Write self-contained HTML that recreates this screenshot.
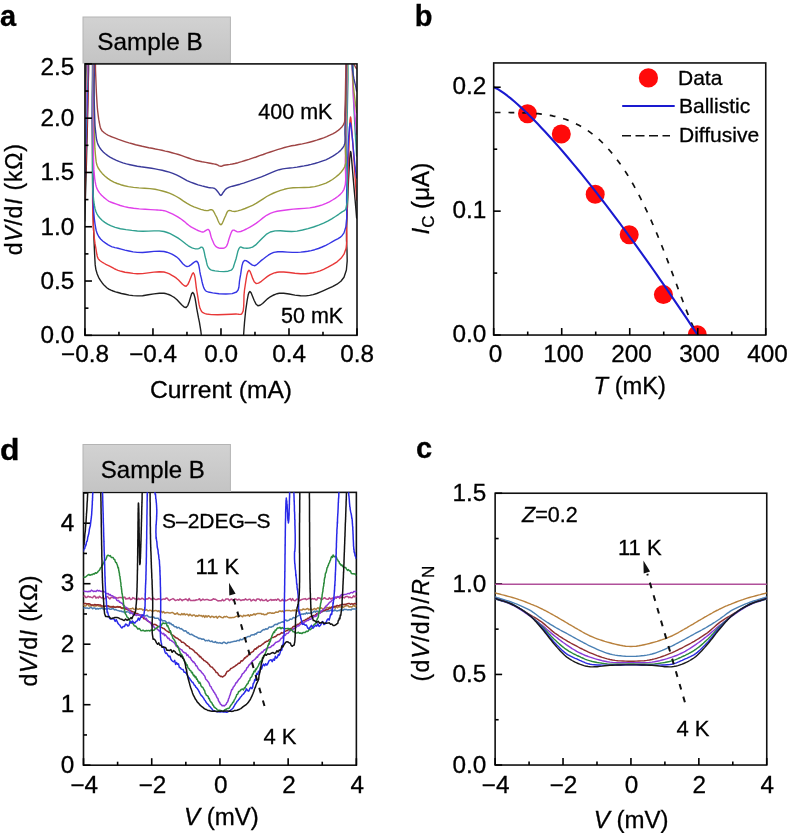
<!DOCTYPE html>
<html><head><meta charset="utf-8"><style>html,body{margin:0;padding:0;background:#fff;width:788px;height:833px;overflow:hidden}svg{display:block;will-change:transform}text{font-family:"Liberation Sans",sans-serif;stroke:#000;stroke-width:0.3px}</style></head><body>
<svg width="788" height="833" viewBox="0 0 788 833" font-family="Liberation Sans, sans-serif"><defs><clipPath id="clipA"><rect x="84.95" y="63.9" width="272.05" height="271.40000000000003"/></clipPath><clipPath id="clipB"><rect x="493.7" y="61.95" width="272.05" height="273.09000000000003"/></clipPath><clipPath id="clipD"><rect x="83.5" y="492.37" width="272.87" height="272.83000000000004"/></clipPath><clipPath id="clipC"><rect x="495.13" y="493.23" width="271.62" height="271.80999999999995"/></clipPath></defs><rect width="788" height="833" fill="#fff"/><path d="M84.8 221.0L85.2 204.7L85.7 188.3L86.2 172.0L86.6 155.8L87.0 140.0L87.4 125.4L87.7 110.7L88.0 96.4L88.3 82.7L88.6 70.0L88.6 60.2L88.5 49.9L88.4 40.6L88.6 33.5L89.5 30.0L89.7 29.8L90.0 29.7L90.3 29.7L90.5 29.8L90.8 30.0L92.2 37.5L92.6 53.7L92.5 75.2L92.3 98.4L92.3 120.0L92.6 145.5L92.8 173.7L93.1 201.9L93.5 227.3L94.3 247.0L94.6 253.9L94.9 259.8L95.2 264.9L95.9 269.6L97.2 274.0L98.6 277.3L100.4 280.4L102.4 283.2L104.5 285.6L106.8 287.7L108.8 289.1L110.9 290.2L113.1 291.0L115.5 291.8L118.0 292.5L121.4 293.5L125.2 294.3L129.1 295.1L133.1 295.6L137.3 295.9L142.6 295.7L148.3 294.8L154.0 293.9L159.4 293.2L164.0 293.3L166.5 293.8L168.7 294.5L170.7 295.4L172.6 296.5L174.6 297.7L177.0 299.7L179.5 302.4L181.9 305.0L184.1 307.0L186.1 307.5L187.8 305.6L189.2 301.8L190.5 297.4L191.6 293.8L192.7 292.4L193.9 294.0L195.0 297.9L195.9 303.2L196.8 308.8L197.7 313.7L198.5 317.9L199.4 322.1L200.1 326.3L200.8 330.6L201.3 335.0L201.7 339.9L202.0 344.8L202.2 349.9L202.3 355.0L202.5 360.0" fill="none" stroke="#1e1e1e" stroke-width="1.4" stroke-linejoin="round" stroke-linecap="round" clip-path="url(#clipA)"/>
<path d="M242.5 360.0L242.7 355.0L242.9 350.1L243.1 345.2L243.3 340.1L243.6 335.0L244.0 329.0L244.5 322.6L245.1 316.3L245.7 310.3L246.5 305.0L247.0 301.5L247.6 298.0L248.2 294.8L249.0 292.5L249.9 291.5L251.1 292.8L252.5 296.2L254.1 300.3L255.9 303.9L257.9 305.7L260.1 305.3L262.6 303.5L265.2 301.1L267.8 298.6L270.3 296.8L272.0 295.8L273.7 295.0L275.3 294.3L277.1 293.7L279.2 293.3L283.7 293.3L289.1 294.0L294.9 295.1L300.6 295.8L305.8 295.9L309.6 295.4L313.2 294.6L316.7 293.5L320.1 292.1L323.6 290.6L327.9 288.7L332.5 286.7L337.0 284.2L340.9 281.2L344.0 277.3L346.4 270.0L347.2 260.9L347.0 250.6L346.5 240.1L346.5 230.0L346.9 219.9L347.3 209.4L347.7 199.1L348.1 189.1L348.5 180.0L348.9 172.9L349.3 165.2L349.7 158.3L350.2 153.3L350.6 151.4L351.0 152.6L351.3 155.7L351.7 160.1L352.1 165.1L352.5 170.0L353.2 178.2L354.0 187.6L354.9 197.7L355.8 208.0L356.6 218.0" fill="none" stroke="#1e1e1e" stroke-width="1.4" stroke-linejoin="round" stroke-linecap="round" clip-path="url(#clipA)"/>
<path d="M84.8 199.3L85.4 179.2L86.0 158.7L86.6 138.5L87.2 118.8L87.8 100.0L88.0 83.2L88.0 65.2L88.1 48.5L88.6 35.9L89.8 30.0L90.0 29.8L90.3 29.7L90.5 29.7L90.8 29.8L91.0 30.0L92.5 40.4L93.0 63.5L92.8 93.4L92.5 124.2L92.5 150.0L92.6 167.4L92.6 184.6L92.6 200.9L92.9 215.6L93.4 228.0L93.9 233.7L94.4 238.8L95.0 243.4L95.7 247.4L96.3 251.0L96.6 252.8L96.9 254.5L97.2 256.0L97.6 257.4L98.2 258.6L98.9 259.6L99.8 260.5L100.8 261.2L101.9 262.0L103.0 262.7L104.4 263.5L105.9 264.3L107.5 265.1L109.1 265.8L110.6 266.6L112.0 267.4L113.4 268.2L114.8 269.0L116.3 269.7L118.0 270.4L121.2 271.3L124.9 272.2L128.9 272.8L133.1 273.4L137.3 273.7L142.5 273.6L148.2 272.9L153.9 272.1L159.3 271.7L164.0 272.0L166.9 272.8L169.5 273.9L171.9 275.3L174.2 276.7L176.4 278.2L178.5 280.0L180.6 282.2L182.5 284.3L184.4 285.8L186.1 286.2L187.8 284.6L189.4 281.1L190.9 277.2L192.2 274.0L193.3 272.8L194.3 274.3L195.1 277.9L195.7 282.6L196.3 287.6L197.0 292.0L197.7 296.1L198.4 300.5L199.1 304.7L200.0 308.3L201.3 311.0L202.1 312.0L203.0 312.7L204.0 313.2L205.2 313.6L206.6 314.0L211.3 314.6L217.7 314.7L224.7 314.5L231.2 314.2L236.0 314.0L237.5 314.1L238.8 314.3L240.0 314.4L241.0 314.3L241.9 313.7L243.2 310.9L243.7 306.3L243.9 300.8L244.0 295.1L244.5 290.0L245.2 285.3L246.0 280.1L246.8 275.3L247.8 271.7L249.0 270.2L250.1 271.4L251.3 274.5L252.7 278.4L254.2 281.7L256.1 283.5L258.5 283.1L261.4 281.3L264.5 278.8L267.5 276.4L270.3 274.6L272.1 273.8L273.7 273.2L275.3 272.7L277.1 272.3L279.2 272.0L283.7 272.0L289.1 272.5L294.9 273.2L300.6 273.7L305.8 273.7L309.6 273.3L313.2 272.7L316.7 271.9L320.1 270.8L323.6 269.3L328.0 267.2L332.6 264.7L337.1 261.8L341.0 258.3L344.0 254.2L346.1 248.3L346.8 241.5L346.8 233.9L346.6 225.9L346.7 217.8L347.2 207.0L347.5 195.2L347.8 183.1L348.1 171.2L348.5 160.0L348.9 149.6L349.2 138.2L349.6 127.7L350.0 120.0L350.5 117.0L350.9 118.5L351.2 122.4L351.6 127.8L352.1 134.0L352.5 140.0L353.3 150.2L354.1 162.0L354.9 174.6L355.8 187.5L356.6 200.0" fill="none" stroke="#e83838" stroke-width="1.4" stroke-linejoin="round" stroke-linecap="round" clip-path="url(#clipA)"/>
<path d="M84.8 177.6L85.3 159.8L85.9 141.8L86.4 123.8L87.0 106.5L87.5 90.0L87.7 75.6L87.7 60.2L87.9 45.9L88.3 35.1L89.5 30.0L89.7 29.8L90.0 29.7L90.3 29.7L90.5 29.8L90.8 30.0L92.3 39.6L92.8 60.6L92.7 87.8L92.4 116.0L92.5 140.0L92.7 157.4L92.7 175.0L92.9 191.8L93.3 206.6L94.3 218.5L94.9 223.1L95.5 227.0L96.2 230.5L97.2 233.6L98.7 236.5L100.6 239.0L103.0 241.2L105.6 243.1L108.2 244.8L110.6 246.1L112.1 246.8L113.5 247.2L114.8 247.6L116.3 247.9L118.0 248.3L121.2 249.1L124.9 250.1L128.9 251.0L133.1 251.9L137.3 252.4L142.5 252.5L148.2 252.0L153.9 251.4L159.3 251.2L164.0 251.5L166.9 252.2L169.5 253.1L171.9 254.1L174.1 255.4L176.4 256.8L178.7 258.7L180.8 261.2L182.8 263.7L184.9 265.6L187.0 266.6L189.0 266.1L191.2 264.6L193.3 262.9L195.2 261.5L196.8 261.3L198.0 262.7L198.8 265.3L199.4 268.5L199.9 271.9L200.5 275.0L201.3 278.1L202.0 281.5L202.8 284.8L203.7 287.6L204.8 289.7L205.4 290.4L206.0 291.0L206.6 291.4L207.4 291.7L208.4 292.0L212.7 292.9L219.0 293.7L225.9 294.0L232.2 293.6L236.5 292.0L238.1 290.0L238.9 287.3L239.2 284.3L239.5 281.1L240.0 278.0L240.7 274.2L241.3 269.8L242.0 265.6L243.0 262.2L244.5 260.4L246.1 260.6L248.1 261.9L250.3 263.6L252.4 265.1L254.3 265.7L255.8 265.3L257.1 264.3L258.5 263.0L259.9 261.7L261.4 260.4L263.6 258.8L265.8 257.0L268.3 255.2L270.9 253.6L273.8 252.4L277.9 251.7L282.6 251.8L287.5 252.1L292.4 252.4L297.0 252.4L300.7 252.1L304.3 251.7L307.8 251.3L311.2 250.6L314.7 249.7L318.4 248.5L322.1 247.0L325.8 245.3L329.3 243.5L332.5 241.7L335.1 240.2L337.7 238.9L340.1 237.4L342.2 235.4L344.0 232.9L345.9 226.6L346.7 218.4L346.7 209.1L346.6 199.4L346.7 190.0L347.1 179.8L347.4 169.0L347.7 158.3L348.1 148.4L348.5 140.0L348.8 135.5L349.2 130.9L349.5 126.9L349.9 124.1L350.3 123.0L350.6 123.8L351.0 125.8L351.3 128.7L351.7 131.9L352.0 135.0L352.6 140.2L353.1 146.2L353.7 152.5L354.3 158.7L354.8 164.0L355.2 167.1L355.5 170.0L355.9 172.6L356.2 175.3L356.6 178.0" fill="none" stroke="#3434e4" stroke-width="1.4" stroke-linejoin="round" stroke-linecap="round" clip-path="url(#clipA)"/>
<path d="M84.8 156.0L85.3 140.5L85.8 124.8L86.2 109.3L86.7 94.2L87.2 80.0L87.4 68.0L87.4 55.2L87.5 43.4L88.0 34.4L89.2 30.0L89.5 29.8L89.8 29.7L90.2 29.7L90.5 29.8L90.8 30.0L92.3 37.9L92.8 54.8L92.7 76.7L92.5 99.7L92.5 120.0L92.6 137.7L92.4 156.2L92.4 174.1L92.7 189.8L93.8 201.7L94.4 205.4L95.0 208.5L95.8 211.2L96.8 213.6L98.2 216.0L100.1 218.3L102.3 220.5L104.8 222.4L107.6 224.2L110.6 225.7L115.2 227.4L120.4 228.7L126.0 229.6L131.8 230.4L137.3 231.0L142.8 231.3L148.4 231.1L154.0 230.9L159.2 230.9L164.0 231.5L167.2 232.5L170.2 233.7L172.9 235.1L175.6 236.6L178.2 238.2L180.8 240.0L183.4 242.0L185.9 244.0L188.3 245.8L190.6 247.1L192.1 247.8L193.6 248.3L195.0 248.7L196.4 248.9L197.7 248.9L198.7 248.6L199.6 248.1L200.5 247.5L201.3 247.1L202.1 247.1L203.1 248.2L203.8 250.3L204.4 252.9L204.9 255.6L205.5 258.0L206.1 260.0L206.5 262.2L207.0 264.2L207.6 266.0L208.4 267.5L209.0 268.3L209.5 268.9L210.2 269.4L210.9 269.8L211.9 270.2L215.0 270.9L219.2 271.4L223.9 271.6L228.1 271.2L231.2 270.2L232.4 269.0L233.3 267.5L233.8 265.8L234.4 263.9L235.0 262.0L236.0 259.0L236.9 255.3L237.8 251.6L238.9 248.7L240.1 247.1L240.7 247.0L241.4 247.1L242.0 247.5L242.8 247.8L243.6 248.0L245.1 248.1L246.8 248.2L248.6 248.1L250.5 247.7L252.5 247.1L255.7 244.9L259.0 241.6L262.5 237.9L266.2 234.4L270.3 232.0L275.1 230.9L280.4 230.8L286.0 231.2L291.6 231.5L297.0 231.1L302.5 230.0L308.0 228.6L313.5 227.0L318.7 225.1L323.6 223.1L327.7 221.1L331.7 218.8L335.4 216.5L338.7 214.3L341.4 212.4L342.5 211.7L343.5 211.2L344.3 210.7L345.1 210.0L345.8 208.9L347.3 201.9L347.5 190.8L347.2 177.4L346.6 163.3L346.5 150.0L346.8 136.2L347.1 121.9L347.4 107.4L347.7 93.3L348.0 80.0L348.0 68.1L347.7 55.4L347.5 43.6L347.8 34.5L349.0 30.0L349.4 29.7L349.8 29.6L350.2 29.6L350.6 29.7L351.0 30.0L352.5 36.5L353.1 49.8L353.2 66.8L353.2 84.6L353.5 100.0L354.1 111.6L354.7 122.9L355.3 133.9L356.0 144.9L356.6 156.0" fill="none" stroke="#30a090" stroke-width="1.4" stroke-linejoin="round" stroke-linecap="round" clip-path="url(#clipA)"/>
<path d="M84.8 134.3L85.2 121.2L85.7 107.9L86.1 94.6L86.5 81.9L87.0 70.0L87.2 60.3L87.2 50.2L87.4 40.8L87.9 33.7L89.0 30.0L89.4 29.7L89.8 29.6L90.2 29.6L90.6 29.7L91.0 30.0L92.7 38.3L93.3 55.6L93.3 77.9L93.1 100.7L93.2 120.0L93.4 133.2L93.4 146.4L93.5 158.9L93.9 169.9L94.7 178.6L95.2 181.7L95.7 184.4L96.3 186.7L97.1 188.9L98.2 191.0L99.7 193.1L101.5 195.2L103.5 197.1L105.5 198.7L107.1 200.0L107.8 200.5L108.4 200.9L109.0 201.3L109.7 201.6L110.6 202.0L113.2 203.0L116.5 204.2L120.3 205.5L124.4 206.6L128.4 207.5L133.6 208.3L139.3 208.9L145.2 209.3L150.6 209.6L155.1 209.9L157.2 210.0L159.0 210.1L160.7 210.2L162.3 210.4L164.0 210.7L165.8 211.2L167.6 211.8L169.3 212.6L171.1 213.4L172.8 214.2L174.6 215.1L176.4 216.1L178.2 217.2L180.0 218.3L181.7 219.5L183.5 220.9L185.3 222.3L187.0 223.9L188.8 225.3L190.6 226.6L192.4 227.7L194.3 228.7L196.2 229.7L198.0 230.5L199.5 231.1L200.3 231.4L201.0 231.7L201.6 231.9L202.3 232.0L203.0 232.0L204.1 231.6L205.2 230.9L206.4 230.1L207.5 229.5L208.4 229.5L209.3 230.4L209.9 232.0L210.4 234.0L210.9 236.1L211.5 238.0L212.2 239.7L213.0 241.6L213.7 243.3L214.6 244.9L215.5 246.1L216.1 246.7L216.8 247.1L217.5 247.5L218.2 247.8L219.0 248.0L220.0 248.2L221.0 248.3L222.1 248.3L223.1 248.2L224.0 248.0L224.6 247.8L225.1 247.5L225.6 247.1L226.0 246.7L226.5 246.1L227.3 244.6L228.0 242.5L228.6 240.2L229.3 238.0L230.0 236.0L230.5 234.6L231.0 233.1L231.6 231.8L232.2 230.7L233.0 230.1L233.9 230.1L234.8 230.5L235.9 231.1L237.0 231.7L238.3 231.9L240.7 231.5L243.5 230.4L246.4 229.0L249.5 227.4L252.5 225.7L256.0 223.4L259.5 220.7L263.0 217.9L266.6 215.3L270.3 213.3L273.7 212.1L277.1 211.3L280.6 210.7L284.3 210.2L288.1 209.7L293.2 209.1L298.6 208.8L304.2 208.4L309.7 207.9L314.7 207.0L318.6 206.0L322.4 204.8L326.0 203.4L329.4 201.8L332.5 200.0L335.2 198.3L337.8 196.5L340.3 194.4L342.3 192.1L344.0 189.3L345.3 184.8L345.7 179.5L345.6 173.6L345.3 167.1L345.3 160.0L345.7 146.2L346.0 129.9L346.4 112.5L346.7 95.4L347.0 80.0L347.0 67.9L346.7 55.2L346.5 43.4L346.8 34.5L348.0 30.0L348.4 29.7L348.8 29.6L349.2 29.6L349.6 29.7L350.0 30.0L351.4 35.7L352.1 47.1L352.4 61.8L352.5 77.0L353.0 90.0L353.7 99.3L354.4 108.2L355.1 116.9L355.9 125.5L356.6 134.3" fill="none" stroke="#e040ea" stroke-width="1.4" stroke-linejoin="round" stroke-linecap="round" clip-path="url(#clipA)"/>
<path d="M84.8 112.6L85.2 101.8L85.6 90.9L85.9 80.0L86.4 69.6L86.8 60.0L87.0 52.7L87.1 45.2L87.2 38.3L87.7 32.9L88.8 30.0L89.3 29.7L89.8 29.5L90.4 29.5L91.0 29.6L91.5 30.0L93.3 37.7L94.0 53.3L94.0 73.1L93.9 93.3L94.0 110.0L94.2 120.4L94.4 130.5L94.6 140.0L94.9 148.4L95.5 155.5L95.8 158.5L96.1 161.2L96.5 163.5L97.2 165.7L98.2 168.0L100.0 170.7L102.2 173.4L104.8 176.0L107.7 178.4L110.6 180.4L113.8 182.1L117.2 183.5L120.7 184.7L124.5 185.7L128.4 186.6L133.5 187.4L138.9 187.9L144.6 188.2L150.0 188.6L155.1 189.3L158.9 190.1L162.5 191.0L166.0 192.0L169.4 193.2L172.8 194.6L176.4 196.5L180.0 198.7L183.5 201.1L187.1 203.4L190.6 205.3L193.9 206.8L197.4 208.1L200.8 209.3L203.9 210.2L206.6 210.6L207.9 210.5L209.0 210.2L210.0 209.8L211.0 209.6L211.9 209.7L212.9 210.4L213.7 211.6L214.5 213.0L215.2 214.5L216.0 216.0L217.0 217.9L217.9 220.2L218.9 222.5L219.9 224.1L220.8 224.8L221.7 224.2L222.5 222.8L223.4 220.8L224.2 218.8L225.0 217.0L225.7 215.6L226.3 214.0L226.9 212.6L227.6 211.4L228.5 210.6L229.5 210.4L230.7 210.6L231.9 211.1L233.3 211.4L234.8 211.5L237.8 210.9L241.3 209.9L245.1 208.5L248.9 206.9L252.5 205.3L256.1 203.4L259.6 201.1L263.2 198.8L266.7 196.5L270.3 194.6L273.7 193.0L277.2 191.6L280.6 190.4L284.3 189.3L288.1 188.4L293.1 187.8L298.6 187.6L304.2 187.5L309.7 187.3L314.7 186.6L318.6 185.6L322.4 184.4L326.0 183.1L329.3 181.4L332.5 179.5L335.5 177.3L338.4 174.9L341.0 172.2L343.3 169.3L344.9 166.2L345.8 162.9L346.0 159.4L345.7 155.6L345.4 151.4L345.3 146.6L345.6 134.1L345.9 118.4L346.3 101.3L346.7 84.5L347.0 70.0L347.0 60.1L346.8 49.9L346.7 40.7L347.0 33.6L348.0 30.0L348.4 29.7L348.8 29.6L349.2 29.6L349.6 29.7L350.0 30.0L351.3 34.8L351.9 44.5L352.1 56.8L352.3 69.4L352.8 80.0L353.5 87.0L354.2 93.5L355.0 99.9L355.8 106.2L356.6 112.6" fill="none" stroke="#9a9a3c" stroke-width="1.4" stroke-linejoin="round" stroke-linecap="round" clip-path="url(#clipA)"/>
<path d="M84.8 91.0L85.1 83.7L85.4 76.3L85.8 68.9L86.1 61.8L86.5 55.0L86.7 49.1L86.7 42.9L86.9 37.2L87.4 32.6L88.5 30.0L89.1 29.6L89.8 29.4L90.6 29.3L91.3 29.6L92.0 30.0L93.9 37.1L94.5 51.1L94.4 68.6L94.1 86.0L94.2 100.0L94.4 107.1L94.6 113.7L94.8 119.9L95.0 125.5L95.5 130.7L95.9 134.0L96.2 137.0L96.6 139.8L97.3 142.4L98.2 144.9L99.3 146.9L100.5 148.8L101.9 150.6L103.5 152.2L105.3 153.8L107.7 155.6L110.4 157.3L113.3 158.9L116.4 160.4L119.5 161.7L122.9 162.9L126.4 163.9L130.0 164.7L133.7 165.5L137.3 166.2L140.9 166.8L144.4 167.3L148.0 167.8L151.6 168.3L155.1 168.9L158.7 169.6L162.2 170.3L165.8 171.2L169.3 172.1L172.8 173.3L176.4 174.9L179.9 176.7L183.5 178.7L187.0 180.6L190.6 182.2L194.3 183.5L198.1 184.8L201.9 185.9L205.4 186.8L208.4 187.5L209.9 187.7L211.2 187.9L212.4 187.9L213.6 188.1L214.6 188.5L215.4 189.0L216.1 189.7L216.8 190.5L217.4 191.3L218.0 192.0L218.6 192.8L219.2 193.7L219.7 194.6L220.3 195.2L220.8 195.5L221.3 195.2L221.9 194.6L222.4 193.7L222.9 192.8L223.5 192.0L224.1 191.3L224.6 190.5L225.2 189.8L225.9 189.1L226.8 188.4L229.3 187.2L232.5 186.2L236.2 185.2L240.0 184.2L243.6 183.1L247.1 181.9L250.7 180.7L254.3 179.4L257.8 178.1L261.4 176.8L265.0 175.4L268.5 173.8L272.0 172.3L275.6 170.8L279.2 169.7L282.7 168.9L286.3 168.4L289.9 168.0L293.4 167.6L297.0 167.1L300.6 166.5L304.1 165.9L307.7 165.2L311.2 164.4L314.7 163.5L318.4 162.4L322.1 161.1L325.8 159.8L329.3 158.2L332.5 156.4L335.2 154.6L337.9 152.7L340.4 150.6L342.4 148.3L344.0 145.8L344.9 143.1L345.1 140.4L345.1 137.4L344.9 134.0L344.9 130.0L345.2 118.7L345.6 104.2L345.9 88.3L346.2 72.9L346.5 60.0L346.5 52.4L346.4 44.8L346.3 38.0L346.6 32.7L347.5 30.0L347.9 29.7L348.3 29.6L348.7 29.6L349.1 29.7L349.5 30.0L350.7 34.0L351.3 41.9L351.5 51.8L351.9 61.8L352.5 70.0L353.2 74.6L354.0 78.9L354.9 82.9L355.8 86.9L356.6 91.0" fill="none" stroke="#3a3a9a" stroke-width="1.4" stroke-linejoin="round" stroke-linecap="round" clip-path="url(#clipA)"/>
<path d="M84.8 69.0L85.1 64.1L85.4 59.1L85.8 54.2L86.1 49.4L86.5 45.0L86.7 41.5L86.9 37.8L87.1 34.5L87.5 31.7L88.5 30.0L89.4 29.5L90.4 29.2L91.5 29.2L92.6 29.4L93.5 30.0L95.1 34.3L95.6 41.9L95.6 51.3L95.4 61.2L95.5 70.0L95.8 77.5L96.1 85.1L96.4 92.5L96.8 99.5L97.2 105.7L97.5 109.5L97.9 113.0L98.3 116.2L98.7 119.2L99.2 122.0L99.6 123.8L99.9 125.6L100.3 127.2L100.8 128.7L101.5 130.0L102.2 131.0L103.1 131.8L104.0 132.6L105.0 133.3L106.0 134.0L107.1 134.7L108.3 135.3L109.6 135.9L111.0 136.5L112.5 137.1L115.3 138.2L118.5 139.4L122.0 140.6L125.6 141.8L129.0 142.9L132.3 143.8L135.6 144.7L138.9 145.5L142.2 146.3L145.5 147.0L148.8 147.7L152.1 148.3L155.4 149.0L158.7 149.6L162.0 150.3L165.3 151.1L168.6 151.8L171.9 152.7L175.2 153.6L178.5 154.5L181.8 155.6L185.1 156.8L188.4 158.0L191.7 159.2L195.0 160.2L198.4 161.0L202.0 161.8L205.6 162.4L208.8 163.0L211.5 163.5L212.7 163.7L213.7 163.9L214.7 164.1L215.6 164.3L216.5 164.5L217.4 164.9L218.3 165.3L219.1 165.8L220.0 166.1L220.8 166.3L221.4 166.2L222.0 166.1L222.6 165.8L223.2 165.5L224.0 165.3L225.7 165.0L227.7 164.7L230.0 164.4L232.4 164.0L234.8 163.5L238.1 162.7L241.6 161.7L245.2 160.5L248.9 159.4L252.5 158.2L256.1 157.0L259.6 155.7L263.2 154.5L266.7 153.2L270.3 152.0L273.8 150.8L277.4 149.7L281.0 148.6L284.5 147.5L288.1 146.6L291.6 145.8L295.2 145.2L298.7 144.5L302.3 143.9L305.8 143.1L309.4 142.2L313.1 141.2L316.7 140.2L320.2 139.0L323.6 137.8L326.7 136.6L329.8 135.2L332.7 133.8L335.4 132.3L337.8 130.7L339.4 129.4L340.8 128.1L342.1 126.7L343.2 125.2L344.0 123.6L344.6 121.7L344.8 119.6L344.9 117.4L344.8 114.9L344.9 112.0L345.2 103.8L345.4 93.2L345.6 81.6L345.8 70.1L346.0 60.0L346.0 52.7L345.9 45.1L345.8 38.2L346.1 32.8L347.0 30.0L347.4 29.7L347.8 29.6L348.2 29.6L348.6 29.7L349.0 30.0L350.0 33.2L350.4 39.4L350.7 47.0L351.1 54.4L352.0 60.0L352.8 62.2L353.7 64.0L354.7 65.7L355.6 67.3L356.6 69.0" fill="none" stroke="#9e4444" stroke-width="1.4" stroke-linejoin="round" stroke-linecap="round" clip-path="url(#clipA)"/>
<defs><linearGradient id="gbox" x1="0" y1="0" x2="0" y2="1"><stop offset="0" stop-color="#d2d2d2"/><stop offset="1" stop-color="#c4c4c4"/></linearGradient></defs>
<rect x="83" y="17" width="147.4" height="46" fill="url(#gbox)" stroke="#b4b4b4" stroke-width="1"/>
<text x="97.30" y="49.50" font-size="24" textLength="105.30" lengthAdjust="spacingAndGlyphs">Sample B</text>
<rect x="84.95" y="63.9" width="272.05" height="271.40000000000003" fill="none" stroke="#111" stroke-width="1.6"/>
<line x1="84.95" y1="335.30" x2="84.95" y2="328.30" stroke="#000" stroke-width="1.6"/>
<line x1="118.96" y1="335.30" x2="118.96" y2="331.80" stroke="#000" stroke-width="1.6"/>
<line x1="152.96" y1="335.30" x2="152.96" y2="328.30" stroke="#000" stroke-width="1.6"/>
<line x1="186.97" y1="335.30" x2="186.97" y2="331.80" stroke="#000" stroke-width="1.6"/>
<line x1="220.98" y1="335.30" x2="220.98" y2="328.30" stroke="#000" stroke-width="1.6"/>
<line x1="254.98" y1="335.30" x2="254.98" y2="331.80" stroke="#000" stroke-width="1.6"/>
<line x1="288.99" y1="335.30" x2="288.99" y2="328.30" stroke="#000" stroke-width="1.6"/>
<line x1="322.99" y1="335.30" x2="322.99" y2="331.80" stroke="#000" stroke-width="1.6"/>
<line x1="357.00" y1="335.30" x2="357.00" y2="328.30" stroke="#000" stroke-width="1.6"/>
<line x1="84.95" y1="335.30" x2="91.95" y2="335.30" stroke="#000" stroke-width="1.6"/>
<line x1="84.95" y1="308.16" x2="88.45" y2="308.16" stroke="#000" stroke-width="1.6"/>
<line x1="84.95" y1="281.02" x2="91.95" y2="281.02" stroke="#000" stroke-width="1.6"/>
<line x1="84.95" y1="253.88" x2="88.45" y2="253.88" stroke="#000" stroke-width="1.6"/>
<line x1="84.95" y1="226.74" x2="91.95" y2="226.74" stroke="#000" stroke-width="1.6"/>
<line x1="84.95" y1="199.60" x2="88.45" y2="199.60" stroke="#000" stroke-width="1.6"/>
<line x1="84.95" y1="172.46" x2="91.95" y2="172.46" stroke="#000" stroke-width="1.6"/>
<line x1="84.95" y1="145.32" x2="88.45" y2="145.32" stroke="#000" stroke-width="1.6"/>
<line x1="84.95" y1="118.18" x2="91.95" y2="118.18" stroke="#000" stroke-width="1.6"/>
<line x1="84.95" y1="91.04" x2="88.45" y2="91.04" stroke="#000" stroke-width="1.6"/>
<line x1="84.95" y1="63.90" x2="91.95" y2="63.90" stroke="#000" stroke-width="1.6"/>
<text x="74.30" y="343.30" font-size="23.5" text-anchor="end" textLength="33.81" lengthAdjust="spacingAndGlyphs">0.0</text>
<text x="74.30" y="289.02" font-size="23.5" text-anchor="end" textLength="33.81" lengthAdjust="spacingAndGlyphs">0.5</text>
<text x="74.30" y="234.74" font-size="23.5" text-anchor="end" textLength="33.81" lengthAdjust="spacingAndGlyphs">1.0</text>
<text x="74.30" y="180.46" font-size="23.5" text-anchor="end" textLength="33.81" lengthAdjust="spacingAndGlyphs">1.5</text>
<text x="74.30" y="126.18" font-size="23.5" text-anchor="end" textLength="33.81" lengthAdjust="spacingAndGlyphs">2.0</text>
<text x="74.30" y="74.90" font-size="23.5" text-anchor="end" textLength="33.81" lengthAdjust="spacingAndGlyphs">2.5</text>
<text x="85.15" y="361.80" font-size="23.5" text-anchor="middle" textLength="48.02" lengthAdjust="spacingAndGlyphs">−0.8</text>
<text x="153.16" y="361.80" font-size="23.5" text-anchor="middle" textLength="48.02" lengthAdjust="spacingAndGlyphs">−0.4</text>
<text x="221.18" y="361.80" font-size="23.5" text-anchor="middle" textLength="33.81" lengthAdjust="spacingAndGlyphs">0.0</text>
<text x="289.19" y="361.80" font-size="23.5" text-anchor="middle" textLength="33.81" lengthAdjust="spacingAndGlyphs">0.4</text>
<text x="357.20" y="361.80" font-size="23.5" text-anchor="middle" textLength="33.81" lengthAdjust="spacingAndGlyphs">0.8</text>
<text x="221.00" y="397.50" font-size="24" text-anchor="middle" textLength="142.15" lengthAdjust="spacingAndGlyphs">Current (mA)</text>
<text x="22.50" y="199.70" font-size="23" text-anchor="middle" textLength="111.08" lengthAdjust="spacing" transform="rotate(-90 22.50 199.70)"><tspan>d</tspan><tspan font-style="italic">V</tspan><tspan>/d</tspan><tspan font-style="italic">I</tspan><tspan> (kΩ)</tspan></text>
<text x="258.30" y="119.00" font-size="21.5">400 mK</text>
<text x="281.00" y="322.60" font-size="21.5">50 mK</text>
<text x="0.00" y="26.00" font-size="29" font-weight="bold">a</text>
<circle cx="527.5" cy="113.7" r="9.5" fill="#ff0a0a" clip-path="url(#clipB)"/>
<circle cx="561.3" cy="134" r="9.5" fill="#ff0a0a" clip-path="url(#clipB)"/>
<circle cx="595.2" cy="194.2" r="9.5" fill="#ff0a0a" clip-path="url(#clipB)"/>
<circle cx="629.2" cy="234.8" r="9.5" fill="#ff0a0a" clip-path="url(#clipB)"/>
<circle cx="663.4" cy="294.6" r="9.5" fill="#ff0a0a" clip-path="url(#clipB)"/>
<circle cx="697.3" cy="334.8" r="9.5" fill="#ff0a0a" clip-path="url(#clipB)"/>
<path d="M493.7 112.5L495.4 112.5L497.1 112.5L498.8 112.5L500.5 112.5L502.2 112.5L503.9 112.5L505.6 112.5L507.3 112.5L509.1 112.5L510.8 112.6L512.5 112.6L514.2 112.6L515.9 112.6L517.6 112.6L519.3 112.7L521.0 112.7L522.7 112.8L524.4 112.8L526.1 112.9L527.8 113.0L529.5 113.1L531.2 113.2L532.9 113.3L534.6 113.4L536.3 113.6L538.1 113.7L539.8 113.9L541.5 114.1L543.2 114.3L544.9 114.6L546.6 114.8L548.3 115.1L550.0 115.4L551.7 115.7L553.4 116.1L555.1 116.4L556.8 116.9L558.5 117.3L560.2 117.8L561.9 118.3L563.6 118.8L565.4 119.3L567.1 119.9L568.8 120.6L570.5 121.3L572.2 122.0L573.9 122.7L575.6 123.5L577.3 124.4L579.0 125.3L580.7 126.2L582.4 127.2L584.1 128.2L585.8 129.3L587.5 130.4L589.2 131.6L590.9 132.9L592.6 134.2L594.4 135.5L596.1 136.9L597.8 138.4L599.5 139.9L601.2 141.5L602.9 143.2L604.6 144.9L606.3 146.7L608.0 148.6L609.7 150.5L611.4 152.5L613.1 154.5L614.8 156.7L616.5 158.9L618.2 161.2L619.9 163.5L621.6 166.0L623.4 168.5L625.1 171.1L626.8 173.7L628.5 176.5L630.2 179.3L631.9 182.2L633.6 185.2L635.3 188.3L637.0 191.4L638.7 194.6L640.4 197.9L642.1 201.3L643.8 204.8L645.5 208.3L647.2 211.9L648.9 215.6L650.7 219.4L652.4 223.3L654.1 227.2L655.8 231.2L657.5 235.2L659.2 239.4L660.9 243.6L662.6 247.8L664.3 252.1L666.0 256.5L667.7 260.9L669.4 265.4L671.1 269.9L672.8 274.4L674.5 279.0L676.2 283.5L677.9 288.1L679.7 292.7L681.4 297.2L683.1 301.8L684.8 306.2L686.5 310.6L688.2 314.9L689.9 319.1L691.6 323.1L693.3 326.8L695.0 330.2L696.7 333.1L698.4 335.0" fill="none" stroke="#111" stroke-width="1.7" stroke-dasharray="5.8 8" stroke-dashoffset="-1" clip-path="url(#clipB)"/>
<path d="M493.7 87.2L497.1 88.7L500.5 90.8L503.9 93.2L507.3 95.7L510.7 98.4L514.1 101.3L517.5 104.3L520.9 107.4L524.3 110.5L527.7 113.8L531.1 117.2L534.5 120.6L537.9 124.1L541.3 127.7L544.7 131.3L548.1 135.0L551.5 138.7L554.9 142.5L558.3 146.4L561.7 150.3L565.1 154.2L568.5 158.2L571.9 162.3L575.3 166.4L578.7 170.5L582.1 174.7L585.5 178.9L588.9 183.1L592.3 187.4L595.7 191.7L599.1 196.1L602.5 200.5L605.9 204.9L609.3 209.3L612.7 213.8L616.1 218.4L619.5 222.9L622.9 227.5L626.3 232.1L629.7 236.8L633.1 241.4L636.5 246.1L639.9 250.9L643.3 255.6L646.7 260.4L650.1 265.2L653.5 270.0L656.9 274.9L660.3 279.8L663.7 284.7L667.1 289.6L670.5 294.6L673.9 299.6L677.3 304.6L680.7 309.6L684.1 314.6L687.5 319.7L690.9 324.8L694.3 329.9L697.7 335.0" fill="none" stroke="#1a1ad0" stroke-width="2.1" stroke-linejoin="round" clip-path="url(#clipB)"/>
<rect x="493.7" y="62.95" width="272.05" height="272.09000000000003" fill="none" stroke="#111" stroke-width="1.6"/>
<line x1="493.70" y1="335.04" x2="493.70" y2="328.04" stroke="#000" stroke-width="1.6"/>
<line x1="527.71" y1="335.04" x2="527.71" y2="331.54" stroke="#000" stroke-width="1.6"/>
<line x1="561.71" y1="335.04" x2="561.71" y2="328.04" stroke="#000" stroke-width="1.6"/>
<line x1="595.72" y1="335.04" x2="595.72" y2="331.54" stroke="#000" stroke-width="1.6"/>
<line x1="629.73" y1="335.04" x2="629.73" y2="328.04" stroke="#000" stroke-width="1.6"/>
<line x1="663.73" y1="335.04" x2="663.73" y2="331.54" stroke="#000" stroke-width="1.6"/>
<line x1="697.74" y1="335.04" x2="697.74" y2="328.04" stroke="#000" stroke-width="1.6"/>
<line x1="731.74" y1="335.04" x2="731.74" y2="331.54" stroke="#000" stroke-width="1.6"/>
<line x1="765.75" y1="335.04" x2="765.75" y2="328.04" stroke="#000" stroke-width="1.6"/>
<line x1="493.70" y1="335.04" x2="500.70" y2="335.04" stroke="#000" stroke-width="1.6"/>
<line x1="493.70" y1="273.09" x2="497.20" y2="273.09" stroke="#000" stroke-width="1.6"/>
<line x1="493.70" y1="211.14" x2="500.70" y2="211.14" stroke="#000" stroke-width="1.6"/>
<line x1="493.70" y1="149.19" x2="497.20" y2="149.19" stroke="#000" stroke-width="1.6"/>
<line x1="493.70" y1="87.24" x2="500.70" y2="87.24" stroke="#000" stroke-width="1.6"/>
<text x="486.30" y="342.04" font-size="23.5" text-anchor="end" textLength="33.81" lengthAdjust="spacingAndGlyphs">0.0</text>
<text x="486.30" y="218.14" font-size="23.5" text-anchor="end" textLength="33.81" lengthAdjust="spacingAndGlyphs">0.1</text>
<text x="486.30" y="94.24" font-size="23.5" text-anchor="end" textLength="33.81" lengthAdjust="spacingAndGlyphs">0.2</text>
<text x="495.50" y="361.60" font-size="23.5" text-anchor="middle" textLength="13.53" lengthAdjust="spacingAndGlyphs">0</text>
<text x="563.51" y="361.60" font-size="23.5" text-anchor="middle" textLength="40.58" lengthAdjust="spacingAndGlyphs">100</text>
<text x="631.52" y="361.60" font-size="23.5" text-anchor="middle" textLength="40.58" lengthAdjust="spacingAndGlyphs">200</text>
<text x="699.54" y="361.60" font-size="23.5" text-anchor="middle" textLength="40.58" lengthAdjust="spacingAndGlyphs">300</text>
<text x="767.55" y="361.60" font-size="23.5" text-anchor="middle" textLength="40.58" lengthAdjust="spacingAndGlyphs">400</text>
<text x="629.80" y="394.20" font-size="23" text-anchor="middle" textLength="72.37" lengthAdjust="spacingAndGlyphs"><tspan font-style="italic">T</tspan><tspan> (mK)</tspan></text>
<circle cx="648.4" cy="77.9" r="9.6" fill="#ff0a0a"/>
<text x="678.00" y="84.50" font-size="21">Data</text>
<line x1="622.20" y1="106.00" x2="674.70" y2="106.00" stroke="#1a1ad0" stroke-width="2.1"/>
<text x="679.00" y="113.20" font-size="21">Ballistic</text>
<line x1="622" y1="135.7" x2="670" y2="135.7" stroke="#111" stroke-width="1.6" stroke-dasharray="9 4.5"/>
<text x="679.00" y="142.40" font-size="21">Diffusive</text>
<text x="428.80" y="198.60" font-size="23" text-anchor="middle" textLength="71.66" lengthAdjust="spacingAndGlyphs" transform="rotate(-90 428.80 198.60)"><tspan font-style="italic">I</tspan><tspan font-size="16" dy="5">C</tspan><tspan dy="-5"> (μA)</tspan></text>
<text x="414.80" y="26.00" font-size="29" font-weight="bold">b</text>
<rect x="83.5" y="492.37" width="272.87" height="272.83000000000004" fill="none" stroke="#111" stroke-width="1.6"/>
<line x1="83.50" y1="765.20" x2="83.50" y2="758.20" stroke="#000" stroke-width="1.6"/>
<line x1="117.61" y1="765.20" x2="117.61" y2="761.70" stroke="#000" stroke-width="1.6"/>
<line x1="151.72" y1="765.20" x2="151.72" y2="758.20" stroke="#000" stroke-width="1.6"/>
<line x1="185.83" y1="765.20" x2="185.83" y2="761.70" stroke="#000" stroke-width="1.6"/>
<line x1="219.94" y1="765.20" x2="219.94" y2="758.20" stroke="#000" stroke-width="1.6"/>
<line x1="254.04" y1="765.20" x2="254.04" y2="761.70" stroke="#000" stroke-width="1.6"/>
<line x1="288.15" y1="765.20" x2="288.15" y2="758.20" stroke="#000" stroke-width="1.6"/>
<line x1="322.26" y1="765.20" x2="322.26" y2="761.70" stroke="#000" stroke-width="1.6"/>
<line x1="356.37" y1="765.20" x2="356.37" y2="758.20" stroke="#000" stroke-width="1.6"/>
<line x1="83.50" y1="765.20" x2="90.50" y2="765.20" stroke="#000" stroke-width="1.6"/>
<line x1="83.50" y1="734.95" x2="87.00" y2="734.95" stroke="#000" stroke-width="1.6"/>
<line x1="83.50" y1="704.70" x2="90.50" y2="704.70" stroke="#000" stroke-width="1.6"/>
<line x1="83.50" y1="674.45" x2="87.00" y2="674.45" stroke="#000" stroke-width="1.6"/>
<line x1="83.50" y1="644.20" x2="90.50" y2="644.20" stroke="#000" stroke-width="1.6"/>
<line x1="83.50" y1="613.95" x2="87.00" y2="613.95" stroke="#000" stroke-width="1.6"/>
<line x1="83.50" y1="583.70" x2="90.50" y2="583.70" stroke="#000" stroke-width="1.6"/>
<line x1="83.50" y1="553.45" x2="87.00" y2="553.45" stroke="#000" stroke-width="1.6"/>
<line x1="83.50" y1="523.20" x2="90.50" y2="523.20" stroke="#000" stroke-width="1.6"/>
<line x1="83.50" y1="492.95" x2="87.00" y2="492.95" stroke="#000" stroke-width="1.6"/>
<text x="74.20" y="772.80" font-size="23.5" text-anchor="end" textLength="13.53" lengthAdjust="spacingAndGlyphs">0</text>
<text x="74.20" y="712.30" font-size="23.5" text-anchor="end" textLength="13.53" lengthAdjust="spacingAndGlyphs">1</text>
<text x="74.20" y="651.80" font-size="23.5" text-anchor="end" textLength="13.53" lengthAdjust="spacingAndGlyphs">2</text>
<text x="74.20" y="591.30" font-size="23.5" text-anchor="end" textLength="13.53" lengthAdjust="spacingAndGlyphs">3</text>
<text x="74.20" y="530.80" font-size="23.5" text-anchor="end" textLength="13.53" lengthAdjust="spacingAndGlyphs">4</text>
<text x="84.30" y="792.60" font-size="23.5" text-anchor="middle" textLength="27.73" lengthAdjust="spacingAndGlyphs">−4</text>
<text x="152.52" y="792.60" font-size="23.5" text-anchor="middle" textLength="27.73" lengthAdjust="spacingAndGlyphs">−2</text>
<text x="220.74" y="792.60" font-size="23.5" text-anchor="middle" textLength="13.53" lengthAdjust="spacingAndGlyphs">0</text>
<text x="288.95" y="792.60" font-size="23.5" text-anchor="middle" textLength="13.53" lengthAdjust="spacingAndGlyphs">2</text>
<text x="357.17" y="792.60" font-size="23.5" text-anchor="middle" textLength="13.53" lengthAdjust="spacingAndGlyphs">4</text>
<text x="221.50" y="824.70" font-size="23" text-anchor="middle" textLength="74.77" lengthAdjust="spacingAndGlyphs"><tspan font-style="italic">V</tspan><tspan> (mV)</tspan></text>
<text x="37.00" y="631.00" font-size="23" text-anchor="middle" textLength="111.08" lengthAdjust="spacing" transform="rotate(-90 37.00 631.00)"><tspan>d</tspan><tspan font-style="italic">V</tspan><tspan>/d</tspan><tspan font-style="italic">I</tspan><tspan> (kΩ)</tspan></text>
<text x="0.00" y="459.50" font-size="29" font-weight="bold" textLength="19.49" lengthAdjust="spacingAndGlyphs">d</text>
<rect x="83" y="444.5" width="147.4" height="47" fill="url(#gbox)" stroke="#b4b4b4" stroke-width="1"/>
<text x="100.80" y="477.60" font-size="24" textLength="104.05" lengthAdjust="spacingAndGlyphs">Sample B</text>
<text x="162.00" y="528.00" font-size="21">S–2DEG–S</text>
<text x="195.60" y="574.20" font-size="22">11 K</text>
<text x="263.50" y="743.60" font-size="22">4 K</text>
<path d="M83.4 596.5L84.5 595.7L85.7 597.5L86.8 597.4L88.0 596.2L89.1 596.9L90.3 596.8L91.4 597.4L92.6 597.8L93.7 596.2L94.9 596.1L96.0 598.1L97.2 597.2L98.3 598.0L99.5 596.3L100.6 597.4L101.8 598.1L102.9 597.0L104.1 598.7L105.2 598.7L106.4 596.6L107.5 596.6L108.7 597.9L109.8 598.9L111.0 597.6L112.1 597.3L113.3 597.8L114.4 596.9L115.6 597.4L116.7 597.9L117.9 598.1L119.0 597.5L120.2 597.5L121.3 597.5L122.5 598.1L123.6 597.7L124.8 597.1L125.9 599.1L127.1 598.5L128.2 598.7L129.4 597.6L130.5 599.6L131.7 599.3L132.8 597.6L134.0 598.1L135.1 599.1L136.3 599.1L137.4 599.6L138.6 598.4L139.7 599.4L140.9 599.1L142.0 598.2L143.2 598.9L144.3 599.7L145.5 599.6L146.6 598.8L147.8 599.0L148.9 597.7L150.0 598.3L151.2 599.6L152.3 598.7L153.5 598.2L154.6 599.1L155.8 599.5L156.9 599.5L158.1 598.8L159.2 598.9L160.4 599.1L161.5 599.8L162.7 599.2L163.8 598.9L165.0 599.2L166.1 598.1L167.3 598.2L168.4 599.8L169.6 600.5L170.7 599.6L171.9 599.1L173.0 598.6L174.2 599.4L175.3 600.6L176.5 600.1L177.6 599.6L178.8 600.3L179.9 598.9L181.1 599.6L182.2 600.6L183.4 599.7L184.5 599.5L185.7 599.0L186.8 599.7L188.0 600.7L189.1 598.5L190.3 600.4L191.4 600.5L192.6 600.6L193.7 600.3L194.9 600.5L196.0 599.8L197.2 599.9L198.3 599.6L199.5 598.7L200.6 600.7L201.8 600.0L202.9 599.1L204.1 599.9L205.2 599.8L206.4 599.5L207.5 599.5L208.7 600.0L209.8 600.2L211.0 600.2L212.1 599.8L213.3 598.8L214.4 599.3L215.6 599.2L216.7 600.2L217.9 600.9L219.0 600.7L220.2 600.7L221.3 600.8L222.5 599.4L223.6 600.8L224.8 600.4L225.9 599.0L227.1 598.9L228.2 598.9L229.4 600.7L230.5 599.5L231.7 599.1L232.8 600.4L234.0 599.7L235.1 599.0L236.3 599.3L237.4 600.1L238.6 599.3L239.7 599.5L240.9 600.6L242.0 600.0L243.2 599.7L244.3 600.0L245.5 598.9L246.6 599.8L247.8 599.9L248.9 599.3L250.1 599.2L251.2 601.0L252.4 600.1L253.5 599.4L254.7 600.3L255.8 600.8L257.0 598.9L258.1 598.9L259.3 599.2L260.4 600.6L261.6 599.3L262.7 600.6L263.9 600.5L265.0 600.2L266.2 599.4L267.3 601.2L268.5 600.7L269.6 600.1L270.8 599.4L271.9 600.4L273.1 599.7L274.2 600.2L275.4 599.5L276.5 600.3L277.7 598.9L278.8 599.5L280.0 601.0L281.1 600.8L282.3 599.4L283.4 600.7L284.6 599.4L285.7 600.9L286.9 600.4L288.0 599.6L289.2 599.2L290.3 598.6L291.5 600.6L292.6 598.6L293.8 600.4L294.9 600.8L296.1 599.8L297.2 598.8L298.4 600.4L299.5 600.7L300.7 600.0L301.8 599.5L303.0 599.1L304.1 599.0L305.3 598.6L306.4 599.7L307.6 599.1L308.7 598.5L309.9 598.2L311.0 599.5L312.2 598.6L313.3 599.0L314.5 598.6L315.6 599.8L316.8 599.9L317.9 597.7L319.1 598.1L320.2 598.3L321.4 599.9L322.5 599.3L323.7 598.2L324.8 597.8L326.0 598.9L327.1 599.2L328.3 599.3L329.4 597.8L330.6 599.1L331.7 598.5L332.8 597.9L334.0 599.0L335.1 597.1L336.3 598.2L337.4 596.6L338.6 596.7L339.7 598.4L340.9 596.6L342.0 597.8L343.2 597.4L344.3 597.9L345.5 596.7L346.6 596.5L347.8 596.4L348.9 597.7L350.1 597.0L351.2 597.8L352.4 597.6L353.5 595.8L354.7 596.8L355.8 595.7L356.2 596.6" fill="none" stroke="#b84888" stroke-width="1.5" stroke-linejoin="round" stroke-linecap="round" clip-path="url(#clipD)"/>
<path d="M83.4 605.0L84.5 606.0L85.7 606.1L86.8 604.3L88.0 604.5L89.1 606.1L90.3 605.9L91.4 605.9L92.6 605.2L93.7 605.9L94.9 606.0L96.0 606.0L97.2 605.3L98.3 605.9L99.5 605.9L100.6 606.6L101.8 607.2L102.9 607.2L104.1 606.5L105.2 606.4L106.3 606.1L107.5 605.7L108.6 605.8L109.8 606.7L110.9 606.5L112.1 606.7L113.2 607.8L114.4 607.2L115.5 607.3L116.7 606.8L117.8 606.4L119.0 607.1L120.1 606.8L121.3 607.6L122.4 608.6L123.6 608.1L124.7 607.1L125.9 608.6L127.0 608.5L128.1 608.5L129.3 608.9L130.4 608.7L131.6 608.8L132.7 608.0L133.9 609.3L135.0 609.4L136.2 607.9L137.3 609.2L138.5 609.2L139.6 608.8L140.8 609.1L141.9 609.1L143.0 610.2L144.2 609.5L145.3 610.3L146.5 609.5L147.6 610.7L148.7 610.8L149.9 610.1L151.0 610.5L152.2 611.3L153.3 611.1L154.4 610.7L155.6 610.4L156.7 610.7L157.9 611.6L159.0 610.7L160.1 612.3L161.3 611.2L162.4 612.6L163.6 611.6L164.7 613.0L165.8 612.7L167.0 612.4L168.1 612.6L169.3 613.0L170.4 613.0L171.6 612.6L172.7 612.6L173.8 613.3L175.0 614.3L176.1 613.8L177.3 612.9L178.4 614.5L179.5 614.4L180.7 614.9L181.8 613.6L183.0 614.8L184.1 613.6L185.3 614.9L186.4 614.2L187.5 614.3L188.7 615.7L189.8 614.2L191.0 615.2L192.1 616.0L193.3 614.9L194.4 614.9L195.6 616.4L196.7 615.6L197.8 616.3L199.0 615.0L200.1 615.8L201.3 615.5L202.4 616.6L203.6 615.5L204.7 617.4L205.9 615.6L207.0 617.1L208.2 615.8L209.3 616.3L210.5 617.5L211.6 616.3L212.7 616.4L213.9 617.5L215.0 616.9L216.2 616.3L217.3 618.2L218.5 616.6L219.6 616.3L220.8 617.0L221.9 617.5L223.1 617.8L224.2 616.5L225.4 616.9L226.5 616.3L227.7 617.1L228.8 617.7L230.0 617.6L231.1 617.8L232.3 617.5L233.4 617.6L234.6 617.2L235.7 616.6L236.9 616.1L238.0 616.8L239.2 616.0L240.3 615.5L241.5 616.1L242.6 616.8L243.7 615.2L244.9 616.0L246.0 615.5L247.2 615.6L248.3 614.7L249.5 616.3L250.6 614.7L251.7 615.3L252.9 614.8L254.0 613.9L255.2 614.9L256.3 613.9L257.5 613.6L258.6 613.5L259.8 613.6L260.9 613.4L262.0 614.3L263.2 613.9L264.3 614.8L265.5 614.5L266.6 614.5L267.8 612.9L268.9 613.2L270.0 612.6L271.2 613.2L272.3 613.1L273.5 613.3L274.6 613.0L275.8 612.0L276.9 612.2L278.0 612.2L279.2 611.1L280.3 611.0L281.5 611.6L282.6 610.9L283.7 612.0L284.9 610.9L286.0 610.5L287.2 610.5L288.3 610.5L289.5 610.4L290.6 610.9L291.8 610.7L292.9 610.2L294.0 610.8L295.2 609.8L296.3 611.1L297.5 611.1L298.6 610.6L299.8 609.9L300.9 610.0L302.1 610.0L303.2 608.9L304.4 609.5L305.5 609.6L306.7 608.8L307.8 608.6L308.9 609.9L310.1 609.0L311.2 609.2L312.4 609.9L313.5 609.2L314.7 608.5L315.8 609.8L317.0 608.5L318.1 607.7L319.3 608.9L320.4 607.7L321.6 608.0L322.7 609.0L323.9 608.6L325.0 607.2L326.2 607.9L327.3 607.8L328.4 607.8L329.6 607.2L330.7 607.9L331.9 606.7L333.0 607.1L334.2 607.2L335.3 608.2L336.5 606.4L337.6 607.7L338.8 606.5L339.9 607.1L341.1 606.7L342.2 606.8L343.4 607.3L344.5 606.5L345.6 605.8L346.8 605.7L347.9 605.6L349.1 607.0L350.2 606.5L351.4 607.1L352.5 606.5L353.7 605.0L354.8 606.2L356.0 606.4L356.2 605.8" fill="none" stroke="#b08040" stroke-width="1.5" stroke-linejoin="round" stroke-linecap="round" clip-path="url(#clipD)"/>
<path d="M83.4 608.0L84.5 607.6L85.7 608.2L86.8 607.9L88.0 608.3L89.1 608.4L90.3 607.6L91.4 607.5L92.6 608.8L93.7 608.0L94.9 607.9L96.0 609.2L97.2 608.4L98.3 609.0L99.5 608.4L100.6 608.7L101.8 608.0L102.9 608.8L104.1 609.2L105.2 608.7L106.4 609.1L107.5 609.1L108.7 608.2L109.8 609.3L111.0 609.2L112.1 608.8L113.3 608.5L114.4 609.9L115.6 609.5L116.7 610.1L117.8 610.6L118.9 610.7L120.0 611.3L121.1 610.9L122.2 611.8L123.3 611.5L124.4 612.6L125.6 612.7L126.7 611.6L127.8 611.9L129.0 612.2L130.1 613.6L131.2 612.9L132.4 613.4L133.5 613.1L134.6 613.6L135.8 613.5L136.9 613.7L138.1 614.2L139.2 614.4L140.3 615.1L141.5 614.9L142.6 615.5L143.7 615.6L144.9 616.0L146.0 615.8L147.1 615.2L148.2 616.5L149.3 617.0L150.5 617.2L151.6 616.9L152.7 617.5L153.8 617.0L154.9 618.3L156.0 618.3L157.1 618.2L158.2 618.2L159.2 619.8L160.3 620.4L161.4 619.4L162.5 620.9L163.6 620.7L164.6 620.7L165.7 621.4L166.7 622.6L167.8 623.2L168.9 622.3L169.9 623.7L170.9 623.3L172.0 624.9L173.0 624.8L174.0 626.2L175.1 626.9L176.1 626.6L177.1 628.0L178.1 627.4L179.1 627.6L180.1 628.9L181.2 628.6L182.2 629.4L183.2 630.2L184.2 631.1L185.3 630.8L186.3 631.2L187.3 633.0L188.4 632.6L189.4 634.1L190.4 634.6L191.5 634.2L192.5 634.9L193.5 635.5L194.6 636.2L195.6 636.6L196.6 637.0L197.7 637.6L198.7 638.5L199.8 638.3L200.9 638.6L202.0 639.4L203.1 639.0L204.2 639.4L205.3 640.9L206.4 640.4L207.5 640.8L208.6 640.2L209.7 641.1L210.8 641.6L212.0 641.0L213.1 642.1L214.2 642.4L215.4 641.6L216.5 642.7L217.6 642.6L218.8 643.1L219.9 642.6L221.1 643.3L222.2 643.4L223.4 642.2L224.5 642.3L225.7 643.2L226.8 643.6L228.0 642.3L229.1 642.5L230.2 642.5L231.4 641.9L232.5 641.7L233.6 641.4L234.7 641.2L235.9 641.3L237.0 640.6L238.1 640.4L239.2 640.7L240.3 639.2L241.4 639.7L242.5 639.6L243.6 638.5L244.6 638.0L245.7 638.5L246.8 637.1L247.8 636.6L248.9 636.6L249.9 636.5L251.0 635.1L252.0 635.0L253.1 634.6L254.1 634.9L255.2 633.8L256.3 634.0L257.3 632.5L258.4 632.3L259.4 632.3L260.5 632.2L261.5 631.1L262.6 630.2L263.6 629.6L264.7 629.7L265.7 628.7L266.7 629.2L267.8 628.8L268.8 627.3L269.9 626.9L270.9 627.3L272.0 626.6L273.0 626.4L274.1 625.2L275.2 624.4L276.2 624.2L277.3 624.6L278.3 623.3L279.4 623.0L280.5 622.7L281.5 622.2L282.6 621.8L283.7 622.2L284.7 620.5L285.8 619.9L286.9 621.0L288.0 620.5L289.0 620.2L290.1 619.0L291.2 619.4L292.3 618.9L293.3 617.4L294.4 617.8L295.5 617.5L296.6 616.8L297.6 616.2L298.7 615.4L299.8 615.1L300.9 614.5L302.0 613.9L303.1 614.4L304.2 613.6L305.3 614.1L306.4 612.6L307.5 613.7L308.6 613.1L309.7 613.2L310.9 613.0L312.0 612.8L313.1 612.1L314.3 611.1L315.4 612.1L316.6 611.1L317.7 611.2L318.9 611.7L320.0 611.3L321.2 611.1L322.3 611.8L323.4 611.2L324.6 610.7L325.7 610.5L326.9 611.4L328.0 610.7L329.2 611.1L330.3 610.3L331.5 610.0L332.6 610.5L333.8 610.9L334.9 609.8L336.1 610.7L337.2 610.9L338.4 610.6L339.5 610.6L340.7 609.3L341.8 610.2L343.0 610.6L344.1 609.2L345.3 609.5L346.4 609.5L347.6 609.9L348.7 609.7L349.9 609.7L351.0 610.1L352.2 608.9L353.3 608.9L354.5 609.0L355.6 608.9L356.2 609.5" fill="none" stroke="#4a7cb0" stroke-width="1.5" stroke-linejoin="round" stroke-linecap="round" clip-path="url(#clipD)"/>
<path d="M83.4 603.7L84.5 603.5L85.7 603.5L86.8 603.9L88.0 603.8L89.1 603.8L90.3 604.3L91.4 605.0L92.6 605.0L93.7 605.1L94.8 604.5L96.0 605.0L97.1 604.8L98.3 604.8L99.4 604.9L100.6 605.1L101.7 606.1L102.8 606.1L104.0 606.2L105.1 606.3L106.3 605.7L107.4 605.9L108.6 606.4L109.7 606.7L110.9 606.9L112.0 607.1L113.1 606.3L114.3 607.0L115.4 607.2L116.6 607.1L117.7 606.8L118.9 607.2L120.0 606.8L121.2 607.9L122.3 608.0L123.4 607.9L124.5 608.0L125.6 609.1L126.7 609.1L127.7 609.9L128.8 610.3L129.8 610.4L130.9 610.8L131.9 611.5L132.9 611.8L134.0 612.0L135.0 612.7L136.0 613.8L137.0 613.4L138.0 614.0L139.0 615.2L140.0 615.4L141.0 616.3L142.0 616.8L143.0 617.3L143.9 618.8L144.8 618.5L145.7 619.5L146.6 619.9L147.6 621.1L148.5 621.3L149.5 622.0L150.5 623.1L151.5 623.1L152.5 623.9L153.6 624.8L154.6 624.3L155.7 624.7L156.7 625.3L157.8 626.4L158.9 626.7L159.9 626.7L161.0 627.3L162.0 627.6L163.1 628.4L164.1 628.4L165.1 629.7L166.1 630.5L167.1 631.2L168.0 631.6L169.0 632.5L169.9 632.1L170.8 633.1L171.7 634.6L172.6 635.1L173.5 635.4L174.4 636.7L175.3 637.1L176.2 638.0L177.1 638.1L178.0 638.7L179.0 639.7L179.9 640.0L180.8 640.9L181.7 642.3L182.7 642.2L183.6 642.5L184.5 643.3L185.5 644.1L186.4 645.5L187.3 645.7L188.2 646.3L189.1 646.8L190.0 648.6L190.9 648.6L191.8 649.1L192.7 649.7L193.5 650.4L194.4 651.3L195.3 652.6L196.2 652.8L197.0 653.4L197.9 654.7L198.8 655.2L199.6 656.8L200.5 656.5L201.3 657.8L202.2 658.8L203.1 659.2L203.9 660.6L204.8 660.8L205.6 661.2L206.5 662.2L207.4 662.5L208.2 663.8L209.1 664.3L209.9 665.9L210.7 666.6L211.5 667.0L212.3 667.3L213.1 668.4L213.9 669.3L214.6 670.1L215.4 671.0L216.2 672.6L217.0 672.6L217.8 673.3L218.6 675.1L219.5 675.4L220.5 676.5L221.5 676.3L222.7 677.0L223.7 676.2L224.6 675.7L225.4 674.7L226.1 673.5L226.7 672.1L227.4 671.3L228.2 671.2L229.0 670.5L229.9 669.8L230.8 668.4L231.8 668.2L232.7 667.7L233.7 666.9L234.7 666.5L235.6 665.5L236.6 665.0L237.5 664.4L238.4 663.2L239.3 663.3L240.2 662.6L241.1 660.8L242.0 661.1L242.9 660.4L243.8 659.3L244.6 657.8L245.5 658.0L246.4 656.3L247.2 656.6L248.1 655.4L248.9 653.9L249.8 653.3L250.6 653.1L251.5 652.3L252.4 651.8L253.3 651.3L254.2 649.7L255.1 648.8L256.0 649.2L257.0 647.4L257.9 647.7L258.8 646.1L259.7 646.3L260.7 645.6L261.6 645.1L262.6 644.0L263.5 643.8L264.5 642.3L265.5 642.3L266.4 641.2L267.4 641.3L268.4 640.6L269.4 639.6L270.4 639.1L271.4 637.9L272.4 637.4L273.4 637.5L274.4 636.8L275.4 636.7L276.4 635.9L277.4 634.8L278.5 634.5L279.5 634.5L280.5 633.7L281.6 632.6L282.6 633.1L283.6 632.6L284.6 631.2L285.7 631.2L286.7 630.5L287.7 630.4L288.8 629.3L289.8 628.7L290.8 628.5L291.8 628.5L292.8 626.8L293.8 626.3L294.8 626.3L295.7 626.0L296.7 625.0L297.7 624.3L298.7 624.2L299.7 623.5L300.7 622.1L301.6 622.5L302.6 621.1L303.6 620.6L304.6 620.7L305.6 619.6L306.7 619.5L307.7 618.3L308.7 618.6L309.7 617.2L310.7 616.7L311.8 616.5L312.8 615.8L313.8 615.6L314.8 615.5L315.9 614.7L316.9 613.4L317.9 613.2L319.0 613.0L320.0 612.4L321.0 612.2L322.1 611.4L323.1 610.4L324.2 610.2L325.2 610.4L326.3 609.4L327.3 609.4L328.4 609.2L329.4 608.4L330.5 608.0L331.6 607.5L332.7 606.8L333.8 607.1L334.8 606.2L335.9 606.4L337.1 605.4L338.2 605.8L339.3 605.5L340.4 605.0L341.6 604.7L342.7 604.1L343.8 604.8L345.0 604.2L346.1 604.4L347.3 603.7L348.4 603.6L349.6 603.6L350.7 604.3L351.9 603.5L353.0 604.3L354.2 603.5L355.3 603.7L356.2 603.5" fill="none" stroke="#902a2a" stroke-width="1.5" stroke-linejoin="round" stroke-linecap="round" clip-path="url(#clipD)"/>
<path d="M83.4 591.0L84.5 591.2L85.7 591.4L86.8 591.5L88.0 591.7L89.1 591.3L90.3 591.6L91.4 590.1L92.6 590.8L93.7 591.5L94.9 591.1L96.0 591.5L97.2 590.2L98.3 590.9L99.5 590.6L100.6 591.3L101.8 591.5L102.9 590.9L104.0 591.6L105.1 592.1L106.1 593.6L107.1 593.8L108.1 593.4L109.2 595.0L110.2 594.5L111.1 595.8L112.1 595.7L113.1 596.1L114.0 598.1L115.0 597.7L115.9 598.4L116.9 600.3L117.8 600.8L118.7 600.5L119.6 602.3L120.5 602.3L121.4 603.3L122.3 603.2L123.2 605.1L124.1 605.5L124.9 606.7L125.7 607.5L126.5 607.4L127.2 608.4L127.9 608.9L128.7 609.8L129.4 610.5L130.2 611.7L131.1 613.0L132.0 612.8L132.9 614.5L134.0 614.4L135.1 614.6L136.2 615.5L137.4 615.0L138.5 614.7L139.7 615.0L140.8 615.5L141.9 614.8L142.9 616.9L143.8 616.0L144.7 617.9L145.6 618.9L146.4 618.4L147.1 620.4L147.9 620.6L148.7 621.8L149.5 621.7L150.3 622.6L151.1 623.6L151.9 625.7L152.8 625.2L153.7 626.8L154.6 627.8L155.5 628.5L156.4 628.3L157.3 629.0L158.2 630.0L159.2 631.1L160.1 630.7L161.0 632.4L161.9 633.2L162.8 634.0L163.7 633.4L164.6 635.6L165.5 634.9L166.4 636.1L167.2 637.2L168.1 638.5L169.0 638.3L169.8 640.1L170.7 640.2L171.5 640.6L172.3 641.4L173.2 642.0L174.0 642.6L174.8 643.5L175.7 645.2L176.5 646.5L177.4 645.9L178.2 646.5L179.1 648.7L180.0 648.8L180.8 649.3L181.7 649.8L182.6 651.1L183.5 652.2L184.3 652.4L185.2 653.1L186.1 653.3L186.9 655.4L187.8 654.8L188.6 656.3L189.4 657.6L190.2 657.3L191.0 659.2L191.7 660.4L192.4 660.8L193.1 662.0L193.8 661.8L194.5 663.2L195.2 663.7L195.9 665.7L196.6 665.7L197.3 666.9L198.1 668.7L198.8 669.3L199.5 670.4L200.3 670.5L201.0 671.4L201.7 672.7L202.4 673.2L203.1 673.8L203.7 675.0L204.4 675.5L205.0 676.8L205.6 678.8L206.2 679.7L206.9 680.1L207.4 680.9L208.0 681.6L208.6 682.2L209.2 683.5L209.8 685.3L210.4 686.4L211.0 686.6L211.6 688.3L212.2 689.2L212.8 690.1L213.4 691.0L213.9 692.2L214.5 692.5L215.1 694.1L215.7 694.4L216.2 695.7L216.8 697.2L217.4 698.1L217.9 698.4L218.4 700.5L218.8 701.1L219.3 702.1L219.7 702.2L220.3 704.1L221.1 704.5L222.1 705.7L223.2 705.5L224.3 705.9L225.3 705.0L226.1 704.4L226.8 702.8L227.3 702.3L227.8 701.4L228.2 700.4L228.6 698.6L228.9 698.3L229.3 697.2L229.6 695.8L230.0 695.2L230.4 694.1L230.8 692.3L231.2 691.3L231.7 689.6L232.2 689.7L232.7 688.8L233.3 687.1L233.9 686.5L234.6 685.5L235.2 684.6L235.9 682.8L236.6 682.8L237.2 681.6L237.9 680.8L238.6 679.5L239.3 678.9L240.0 678.2L240.7 677.1L241.4 676.3L242.1 674.3L242.8 673.5L243.4 673.1L244.1 672.5L244.8 670.9L245.5 670.7L246.2 669.7L246.9 667.8L247.6 667.6L248.3 666.3L249.0 665.1L249.7 664.4L250.5 663.8L251.2 662.7L252.0 661.8L252.7 660.7L253.5 660.6L254.3 659.6L255.1 659.1L255.9 658.3L256.7 656.9L257.5 657.2L258.4 654.9L259.2 654.8L260.0 653.8L260.9 653.2L261.8 652.0L262.6 652.4L263.5 650.9L264.4 649.7L265.3 649.9L266.3 648.4L267.2 648.5L268.2 647.6L269.2 647.4L270.2 647.4L271.2 646.6L272.2 645.4L273.1 645.4L274.1 644.4L275.0 643.3L275.9 642.3L276.8 642.3L277.7 641.5L278.6 641.4L279.5 640.7L280.4 639.4L281.3 638.2L282.1 638.3L283.0 636.1L283.9 635.6L284.7 635.6L285.6 634.9L286.5 633.4L287.4 633.4L288.3 633.1L289.2 631.6L290.1 631.0L291.0 629.9L291.9 629.4L292.9 629.8L293.8 628.2L294.8 628.5L295.7 627.8L296.7 626.7L297.7 625.6L298.7 626.1L299.7 624.8L300.7 624.1L301.7 623.4L302.7 623.9L303.8 622.6L304.8 621.7L305.8 621.5L306.8 620.4L307.8 620.6L308.8 619.8L309.8 619.0L310.8 619.2L311.8 618.7L312.8 616.8L313.8 617.1L314.8 616.0L315.7 616.5L316.7 615.6L317.6 614.1L318.5 613.4L319.4 612.5L320.3 613.1L321.1 611.2L322.0 610.9L322.8 609.8L323.6 609.3L324.4 608.4L325.2 607.8L325.9 605.9L326.7 606.1L327.5 604.5L328.3 604.1L329.1 602.9L329.9 602.1L330.8 601.7L331.6 600.8L332.5 599.9L333.4 599.8L334.3 598.9L335.3 597.4L336.3 597.2L337.3 597.0L338.4 597.2L339.4 596.7L340.5 595.8L341.6 594.5L342.7 595.4L343.8 594.5L344.9 594.4L346.0 594.3L347.1 593.9L348.2 593.4L349.4 593.8L350.5 592.7L351.6 592.4L352.7 592.9L353.8 591.5L354.9 591.4L356.0 591.9L356.2 591.3" fill="none" stroke="#8a38d8" stroke-width="1.5" stroke-linejoin="round" stroke-linecap="round" clip-path="url(#clipD)"/>
<path d="M83.4 577.0L84.5 577.3L85.6 577.0L86.7 576.0L87.8 575.2L88.9 574.4L90.0 575.3L91.1 574.6L92.2 574.8L93.3 573.7L94.4 574.1L95.4 572.7L96.5 573.2L97.4 572.5L98.3 571.1L99.1 570.5L99.7 569.8L100.4 567.9L100.9 567.6L101.5 567.1L102.0 565.0L102.6 565.1L103.1 563.8L103.7 563.1L104.3 561.2L104.9 559.7L105.4 560.1L106.0 559.1L106.6 557.4L107.2 555.7L108.1 555.2L109.2 556.0L110.3 555.6L111.3 557.5L112.2 557.5L113.1 557.5L113.9 559.2L114.7 559.5L115.3 561.6L115.9 562.5L116.5 562.7L116.9 564.0L117.4 565.2L117.7 566.5L118.1 568.0L118.3 567.2L118.6 569.0L118.8 570.6L119.0 571.1L119.2 572.8L119.4 572.9L119.6 575.7L119.8 576.1L120.0 576.4L120.1 578.6L120.3 579.1L120.4 580.0L120.6 581.7L120.7 582.1L120.9 583.4L121.0 585.9L121.1 586.7L121.3 586.5L121.4 589.1L121.6 588.7L121.7 590.5L121.9 592.8L122.0 593.4L122.2 593.9L122.4 595.2L122.6 596.3L122.8 596.9L123.0 599.8L123.1 599.1L123.3 600.9L123.4 602.7L123.5 603.2L123.7 605.5L123.8 605.1L124.0 607.8L124.2 608.7L124.4 609.4L124.6 611.0L124.9 611.2L125.2 613.1L125.6 614.1L126.0 614.6L126.5 615.5L127.0 617.0L127.6 617.4L128.2 617.8L128.9 620.0L129.5 620.0L130.2 621.4L131.0 622.9L131.7 622.5L132.5 623.0L133.3 624.0L134.2 625.7L135.1 626.0L136.0 626.5L136.9 627.6L137.9 629.1L138.9 628.4L139.9 629.2L140.9 630.7L142.0 630.5L143.1 630.2L144.2 630.9L145.4 631.0L146.5 630.4L147.7 630.7L148.8 630.4L149.9 631.1L151.0 629.9L152.1 630.2L153.2 630.4L154.3 630.0L155.4 628.5L156.4 628.4L157.4 627.2L158.3 626.7L159.2 626.2L160.2 626.2L161.1 625.8L162.1 623.9L163.2 622.9L164.3 623.6L165.4 623.1L166.3 623.7L167.1 626.0L167.8 625.6L168.4 627.8L168.9 628.1L169.4 630.3L169.9 631.2L170.3 630.7L170.8 632.0L171.2 634.5L171.7 634.9L172.1 635.6L172.6 637.4L173.0 638.5L173.6 638.9L174.1 639.9L174.6 640.1L175.1 641.7L175.7 642.3L176.2 644.3L176.7 645.3L177.2 645.4L177.7 647.4L178.2 647.4L178.7 648.4L179.2 650.5L179.7 651.2L180.2 653.1L180.8 653.6L181.3 654.7L181.8 654.6L182.3 657.0L182.9 656.6L183.4 658.7L183.9 660.3L184.4 661.3L185.0 662.3L185.5 662.4L186.1 663.9L186.6 665.1L187.2 664.8L187.8 667.4L188.3 668.3L188.9 668.4L189.6 670.0L190.2 670.3L190.9 670.9L191.6 672.7L192.3 672.3L193.0 674.6L193.8 675.9L194.5 675.4L195.2 677.6L195.9 676.8L196.6 679.3L197.2 679.1L197.9 681.4L198.5 681.3L199.1 683.2L199.8 682.4L200.4 683.5L201.0 685.9L201.6 686.5L202.2 687.3L202.8 687.3L203.4 688.5L204.0 689.9L204.6 690.3L205.2 693.2L205.7 693.7L206.3 695.1L206.9 695.6L207.5 695.8L208.1 696.3L208.7 698.6L209.2 698.3L209.8 700.2L210.3 701.1L210.9 702.1L211.5 702.3L212.1 703.3L212.7 705.1L213.3 705.1L214.0 707.0L214.7 707.2L215.5 708.2L216.5 708.7L217.4 710.1L218.5 710.2L219.6 710.2L220.7 710.4L221.9 711.1L223.0 711.7L224.1 710.4L225.2 709.5L226.2 709.3L227.2 708.5L228.1 708.5L229.0 708.2L229.9 707.0L230.7 705.4L231.3 704.8L232.0 703.9L232.5 703.0L233.1 702.0L233.6 702.1L234.1 700.2L234.7 699.4L235.2 698.5L235.7 697.3L236.2 696.6L236.7 694.7L237.3 694.3L237.9 693.9L238.6 691.4L239.4 691.5L240.4 690.4L241.4 689.4L242.5 689.0L243.5 689.9L244.4 687.8L245.1 688.1L245.8 686.0L246.4 685.5L247.0 683.9L247.5 683.9L248.1 683.4L248.6 681.2L249.1 680.9L249.7 680.6L250.2 678.3L250.7 677.6L251.3 677.1L251.9 676.4L252.5 674.1L253.1 674.1L253.7 672.0L254.3 671.0L255.0 671.8L255.6 669.0L256.2 669.7L256.8 668.4L257.4 667.3L258.0 666.4L258.6 665.3L259.2 663.6L259.8 662.9L260.3 661.4L260.9 661.7L261.5 660.6L262.1 659.6L262.6 657.4L263.2 657.2L263.7 655.5L264.3 655.6L264.8 654.4L265.3 653.9L265.7 652.3L266.2 651.2L266.6 650.3L267.1 647.9L267.5 647.8L267.9 645.6L268.3 645.2L268.7 643.6L269.2 644.2L269.6 641.3L270.0 642.0L270.4 641.0L270.9 638.9L271.3 638.7L271.8 636.1L272.3 635.2L272.8 633.9L273.3 633.0L273.9 631.9L274.5 632.5L275.2 630.1L275.9 630.3L276.8 628.8L277.7 627.9L278.8 628.0L279.9 627.3L281.0 628.8L282.2 627.6L283.3 628.2L284.4 628.4L285.6 628.7L286.7 628.6L287.8 628.4L288.9 628.5L290.0 630.4L291.1 629.4L292.1 630.4L293.1 631.7L294.2 631.7L295.2 632.9L296.3 633.1L297.4 632.8L298.5 632.3L299.7 633.3L300.8 633.0L301.9 633.6L303.0 632.6L304.1 632.6L305.2 632.4L306.3 631.2L307.3 631.5L308.3 631.0L309.3 628.9L310.2 629.8L311.1 629.0L312.0 628.2L312.8 626.4L313.6 625.4L314.4 624.3L315.1 623.8L315.7 623.8L316.2 621.9L316.7 620.1L317.1 619.6L317.5 618.1L317.9 618.1L318.2 617.3L318.4 616.5L318.7 613.7L318.9 613.1L319.1 611.5L319.3 611.9L319.5 610.6L319.7 608.9L319.9 608.6L320.1 606.6L320.3 606.0L320.5 604.3L320.7 602.9L320.9 603.0L321.1 601.6L321.3 600.0L321.6 599.4L321.8 597.8L322.0 597.0L322.2 594.4L322.4 593.4L322.6 592.2L322.7 592.0L322.9 591.1L323.0 588.9L323.2 588.4L323.4 586.5L323.5 586.5L323.7 585.6L323.8 583.0L324.0 583.7L324.2 581.9L324.3 579.7L324.5 579.0L324.7 577.5L324.9 577.5L325.1 576.8L325.3 574.1L325.6 573.0L325.9 572.8L326.2 572.2L326.5 570.8L326.8 569.2L327.2 567.4L327.6 567.3L327.9 565.9L328.3 565.5L328.7 563.9L329.1 563.2L329.5 562.6L330.0 560.8L330.4 560.4L331.0 558.1L331.6 556.5L332.3 557.4L333.1 555.0L334.2 556.8L335.2 556.3L335.9 556.4L336.6 557.8L337.2 559.7L337.8 560.0L338.4 561.4L339.0 561.4L339.6 563.8L340.3 563.8L341.1 565.5L341.9 564.9L342.8 566.7L343.7 567.0L344.7 567.6L345.6 567.5L346.6 569.1L347.5 570.4L348.5 569.6L349.4 570.9L350.4 570.7L351.3 573.3L352.3 573.8L353.3 573.8L354.3 574.0L355.2 573.8L356.2 575.3" fill="none" stroke="#2a8a3a" stroke-width="1.5" stroke-linejoin="round" stroke-linecap="round" clip-path="url(#clipD)"/>
<path d="M83.4 551.2L83.8 549.3L84.3 548.7L84.8 548.5L85.2 545.3L85.7 545.9L86.1 544.6L86.5 541.6L86.8 541.6L87.2 540.8L87.5 539.3L87.8 536.9L88.1 536.3L88.4 534.8L88.7 534.1L88.9 532.9L89.2 531.1L89.4 529.2L89.7 528.0L89.9 527.2L90.1 526.5L90.3 526.0L90.5 524.0L90.7 522.5L90.9 520.9L91.0 520.2L91.2 518.0L91.3 518.1L91.4 516.1L91.5 515.7L91.7 513.8L91.8 511.1L91.9 510.9L91.9 508.7L92.0 509.2L92.1 507.1L92.2 504.5L92.3 504.9L92.3 501.9L92.4 500.5L92.5 500.7L92.5 497.9L92.6 498.3L92.6 495.4L92.7 494.6L92.8 493.4L92.8 492.6L92.9 491.3L93.0 490.6L93.0 489.6L93.1 487.8L93.2 486.6L93.2 483.7L93.3 483.1L93.4 481.5L93.5 479.8L93.5 480.0" fill="none" stroke="#2828e8" stroke-width="1.5" stroke-linejoin="round" stroke-linecap="round" clip-path="url(#clipD)"/>
<path d="M102.2 480.0L102.2 480.1L102.3 482.8L102.3 482.5L102.3 484.4L102.4 487.2L102.4 487.7L102.5 489.5L102.5 489.0L102.5 490.3L102.6 493.1L102.6 494.9L102.6 496.3L102.7 495.7L102.7 498.7L102.7 499.2L102.8 501.6L102.8 503.0L102.8 501.7L102.9 506.4L102.9 505.4L103.0 508.3L103.0 509.1L103.0 510.4L103.1 511.6L103.1 514.3L103.1 512.8L103.2 513.6L103.2 516.5L103.2 519.5L103.3 517.8L103.3 518.7L103.3 522.9L103.4 522.7L103.4 525.2L103.4 523.8L103.5 525.5L103.5 526.4L103.6 528.7L103.6 532.0L103.6 533.4L103.7 532.6L103.7 533.1L103.7 535.3L103.8 537.1L103.8 536.9L103.9 540.0L103.9 539.3L103.9 541.4L104.0 543.3L104.0 545.8L104.0 545.6L104.1 547.3L104.1 550.4L104.2 550.0L104.2 552.2L104.3 552.7L104.3 555.7L104.3 553.7L104.4 554.9L104.4 557.6L104.5 557.5L104.5 560.2L104.6 561.4L104.6 565.0L104.6 565.7L104.7 564.2L104.7 566.0L104.8 570.0L104.8 569.2L104.8 570.8L104.9 573.3L104.9 572.3L104.9 576.6L105.0 576.1L105.0 578.5L105.1 576.9L105.1 578.3L105.1 582.0L105.2 582.0L105.2 582.3L105.3 585.4L105.3 586.2L105.4 586.7L105.4 587.7L105.5 589.3L105.6 592.1L105.7 592.3L105.7 594.0L105.8 597.2L105.9 596.9L106.0 596.9L106.2 597.9L106.3 601.1L106.4 601.1L106.5 604.2L106.6 606.4L106.7 606.5L106.8 606.4L106.9 607.1L107.0 609.6L107.2 612.6L107.5 611.7L107.8 612.7L108.3 614.9L108.9 616.5L109.7 618.4L110.7 619.1L111.8 619.0L113.0 618.6L114.1 619.1L115.2 621.4L116.3 619.7L117.2 621.6L118.1 623.6L118.9 624.5L119.8 625.2L120.8 627.0L121.9 627.9L123.1 626.5L124.4 626.6L125.6 624.1L126.7 624.5L127.8 626.0L128.9 625.6L130.0 621.5L131.2 622.9L132.4 621.0L133.7 622.4L134.9 623.1L136.1 621.4L137.3 620.8L138.4 618.1L139.4 620.1L140.5 617.6L141.4 617.3L142.3 615.0L143.0 615.3L143.6 615.2L144.0 614.5L144.3 611.7L144.6 610.4L144.8 607.3L144.9 609.2L145.0 607.2L145.1 604.7L145.1 603.6L145.1 601.4L145.1 601.4L145.2 601.8L145.2 599.0L145.2 598.5L145.2 597.3L145.2 593.6L145.3 595.3L145.3 593.1L145.4 592.4L145.4 588.2L145.5 587.7L145.5 585.7L145.6 585.0L145.6 583.2L145.7 583.9L145.7 582.7L145.8 580.4L145.8 579.4L145.9 579.7L145.9 577.9L145.9 574.7L146.0 574.9L146.0 573.5L146.0 572.4L146.1 570.8L146.1 569.7L146.1 565.7L146.2 565.3L146.2 565.2L146.2 563.6L146.3 563.7L146.3 562.3L146.3 560.8L146.3 559.0L146.4 556.8L146.4 554.5L146.4 553.0L146.4 552.3L146.4 552.8L146.5 549.0L146.5 548.9L146.5 549.3L146.5 546.4L146.5 544.8L146.6 543.2L146.6 541.5L146.6 541.1L146.6 540.6L146.6 539.1L146.7 539.3L146.7 538.0L146.7 534.3L146.7 532.6L146.7 531.0L146.8 529.2L146.8 529.1L146.8 527.5L146.8 525.6L146.8 526.0L146.8 525.6L146.9 524.5L146.9 520.6L146.9 520.9L146.9 520.5L146.9 517.5L146.9 515.3L147.0 514.0L147.0 513.5L147.0 514.5L147.0 512.6L147.0 510.5L147.0 510.6L147.1 507.8L147.1 505.1L147.1 503.6L147.1 503.9L147.1 501.5L147.2 499.9L147.2 501.3L147.2 498.5L147.2 499.1L147.2 494.2L147.3 496.5L147.3 495.1L147.3 490.3L147.3 491.4L147.3 489.7L147.4 486.8L147.4 486.7L147.4 485.8L147.4 482.6L147.4 483.7L147.5 482.1L147.5 479.5L147.5 480.0" fill="none" stroke="#2828e8" stroke-width="1.5" stroke-linejoin="round" stroke-linecap="round" clip-path="url(#clipD)"/>
<path d="M153.5 480.0L153.7 482.0L153.8 483.2L154.0 485.2L154.1 486.8L154.3 484.8L154.5 487.9L154.7 489.0L154.8 492.0L155.0 493.2L155.2 494.7L155.4 494.6L155.5 494.0L155.7 496.7L155.8 498.9L156.0 498.9L156.1 500.1L156.3 502.7L156.4 502.7L156.5 505.0L156.6 505.6L156.6 506.9L156.7 507.8L156.7 510.0L156.8 509.3L156.8 513.3L156.7 514.6L156.7 516.7L156.6 515.6L156.6 518.2L156.5 520.3L156.4 520.8L156.3 522.7L156.3 522.8L156.2 525.0L156.1 524.3L156.0 526.1L156.0 528.6L156.0 527.5L155.9 531.5L155.9 532.1L155.9 532.9L156.0 533.6L156.0 536.5L156.1 538.7L156.2 537.0L156.4 539.3L156.5 540.2L156.7 540.8L156.9 542.2L157.0 543.7L157.2 546.2L157.4 547.8L157.6 548.4L157.8 549.2L158.0 550.0L158.2 552.8L158.4 554.3L158.6 554.5L158.8 557.0L159.0 558.7L159.1 559.3L159.2 559.4L159.4 560.9L159.5 563.8L159.6 564.4L159.6 564.7L159.7 566.8L159.8 566.4L159.9 571.0L159.9 572.3L160.0 570.0L160.0 574.2L160.1 575.6L160.1 574.9L160.2 576.9L160.2 579.8L160.3 577.9L160.3 579.4L160.3 580.7L160.3 582.2L160.4 586.6L160.4 585.6L160.4 587.2L160.5 587.2L160.5 590.4L160.5 592.5L160.5 591.2L160.6 594.1L160.6 593.5L160.6 597.0L160.6 596.4L160.7 598.1L160.7 600.5L160.7 599.9L160.7 601.6L160.7 602.9L160.7 605.9L160.7 606.6L160.7 608.1L160.7 610.6L160.7 612.0L160.6 611.5L160.6 613.3L160.6 613.2L160.5 617.3L160.5 619.1L160.5 618.6L160.4 621.7L160.4 619.4L160.4 623.9L160.3 623.5L160.3 623.8L160.3 628.1L160.3 627.2L160.3 630.9L160.3 629.2L160.3 632.4L160.3 633.4L160.4 633.2L160.4 633.8L160.5 637.4L160.6 637.2L160.7 640.0L160.9 640.6L161.1 642.2L161.4 643.1L161.7 645.5L162.1 646.2L162.5 646.6L163.1 646.8L163.7 647.6L164.3 649.3L165.1 652.3L165.8 653.4L166.6 653.0L167.4 654.4L168.2 655.8L169.1 656.8L170.0 656.1L170.9 659.2L171.8 660.5L172.8 661.3L173.7 661.8L174.7 660.3L175.6 664.4L176.6 662.5L177.5 664.3L178.5 663.9L179.4 667.6L180.4 667.7L181.3 669.1L182.2 669.4L183.1 669.5L184.1 672.2L185.0 672.3L185.9 672.2L186.0 673.0" fill="none" stroke="#2828e8" stroke-width="1.5" stroke-linejoin="round" stroke-linecap="round" clip-path="url(#clipD)"/>
<path d="M186.0 673.0L186.7 673.9L187.4 675.5L188.1 676.5L188.9 677.6L189.6 678.4L190.3 679.7L191.1 680.6L191.9 682.0L192.7 682.2L193.5 683.5L194.2 685.0L195.0 685.4L195.8 687.1L196.5 687.6L197.2 688.5L198.0 689.7L198.7 690.8L199.4 692.2L200.1 693.6L200.8 694.7L201.5 695.7L202.3 696.3L203.0 697.4L203.7 698.3L204.5 700.0L205.2 700.5L205.9 702.0L206.7 703.0L207.5 703.9L208.4 704.7L209.2 706.1L210.0 706.6L210.9 707.8L211.8 708.7L212.7 710.1L213.8 710.8L214.9 711.3L216.2 711.4L217.5 711.8L218.8 711.8L220.1 712.0L221.4 711.8L222.7 711.8L224.0 712.1L225.3 711.8L226.5 712.2L227.8 711.9L229.1 711.2L230.2 710.6L231.2 709.7L232.1 709.0L232.9 708.3L233.6 707.0L234.3 705.9L235.0 704.5L235.7 703.5L236.4 702.6L237.2 701.1L238.0 700.7L238.8 699.4L239.6 698.6L240.4 697.2L241.3 696.5L242.1 695.1L242.9 694.5L243.8 693.6L244.6 692.3L245.4 691.4" fill="none" stroke="#2828e8" stroke-width="1.5" stroke-linejoin="round" stroke-linecap="round" clip-path="url(#clipD)"/>
<path d="M245.4 691.4L246.5 688.9L247.6 690.6L248.7 691.2L249.8 688.6L250.9 687.3L251.8 688.7L252.6 687.6L253.2 683.6L253.8 682.9L254.3 681.4L254.7 679.7L255.2 679.2L255.6 680.5L256.0 679.0L256.4 674.4L256.9 673.4L257.3 674.2L257.9 674.4L258.4 671.3L259.0 671.6L259.7 670.8L260.6 667.0L261.5 669.0L262.5 665.9L263.5 664.1L264.6 665.8L265.6 663.7L266.8 665.1L267.9 663.5L269.0 660.8L270.1 660.0L271.2 659.8L272.2 661.6L273.3 659.1L274.4 660.2L275.4 656.3L276.5 658.2L277.5 657.1L278.3 654.4L279.1 655.2L279.8 653.9L280.4 651.5L281.0 650.0L281.4 649.1L281.8 650.1L282.2 647.7L282.5 645.4L282.8 644.3L283.1 644.3L283.3 643.7L283.5 640.7L283.7 639.0L283.8 636.8L283.9 635.7L284.0 634.7L284.1 635.2L284.1 632.6L284.2 631.9L284.2 629.2L284.2 629.1L284.3 628.2L284.3 627.1L284.3 625.0L284.3 623.0L284.3 624.3L284.3 620.8L284.3 619.0L284.3 619.6L284.3 617.8L284.3 617.3L284.3 613.1L284.3 613.8L284.3 610.7L284.3 611.3L284.3 611.2L284.3 609.7L284.3 608.6L284.3 605.8L284.3 603.2L284.3 604.7L284.4 601.3L284.4 599.1L284.4 600.6L284.4 598.4L284.5 597.1L284.5 596.7L284.5 593.3L284.6 591.9L284.6 592.0L284.6 588.6L284.6 588.8L284.6 586.8L284.7 584.9L284.7 585.3L284.7 584.9L284.7 581.4L284.7 582.7L284.7 578.7L284.8 578.2L284.8 577.1L284.8 575.6L284.8 575.0L284.8 574.2L284.8 571.3L284.9 572.1L284.9 569.2L284.9 567.8L284.9 567.0L284.9 564.5L284.9 565.8L285.0 562.9L285.0 560.2L285.0 559.9L285.0 558.1L285.0 557.5L285.0 554.7L285.0 553.7L285.1 554.4L285.1 554.3L285.1 550.9L285.1 550.6L285.1 547.2L285.1 547.1L285.1 544.2L285.2 546.2L285.2 543.9L285.2 540.7L285.2 539.9L285.2 537.6L285.2 538.4L285.3 535.5L285.3 535.4L285.3 534.4L285.3 533.2L285.3 530.9L285.3 531.8L285.4 527.2L285.4 526.6L285.4 526.7L285.4 526.2L285.4 523.3L285.5 520.9L285.5 520.2L285.5 518.8L285.5 520.2L285.6 517.8L285.6 514.8L285.6 515.5L285.6 511.9L285.7 511.8L285.7 509.0L285.7 510.5L285.8 508.9L285.8 507.1L285.9 505.5L285.9 502.9L286.0 502.6L286.0 500.4L286.1 501.9L286.3 498.1L286.6 501.0L286.7 501.5L286.8 501.1L286.9 504.6L287.0 504.9L287.1 504.4L287.2 506.5L287.3 508.1L287.4 510.3L287.4 511.3L287.5 512.4L287.6 513.5L287.7 517.1L287.8 518.0L287.8 519.3L287.9 518.5L288.0 520.7L288.2 520.1L288.4 523.0L288.7 520.8L288.8 519.9L288.8 519.8L288.9 519.4L289.0 515.5L289.0 514.7L289.1 515.5L289.1 513.2L289.1 511.7L289.2 508.8L289.2 509.6L289.3 507.6L289.3 504.5L289.3 503.9L289.4 505.0L289.4 500.4L289.4 502.2L289.5 498.2L289.5 496.4L289.5 498.5L289.6 497.5L289.6 492.6L289.6 491.4L289.7 493.4L289.7 491.4L289.7 490.7L289.8 487.7L289.8 486.1L289.8 486.4L289.9 482.5L289.9 482.9L290.0 480.0L290.0 480.6L290.0 480.0" fill="none" stroke="#2828e8" stroke-width="1.5" stroke-linejoin="round" stroke-linecap="round" clip-path="url(#clipD)"/>
<path d="M293.5 480.0L293.5 482.7L293.6 484.0L293.6 483.4L293.7 483.3L293.7 485.3L293.7 486.0L293.8 487.3L293.8 492.0L293.9 491.2L293.9 493.9L293.9 492.9L294.0 496.3L294.0 495.2L294.1 499.6L294.1 501.0L294.2 501.9L294.2 500.2L294.3 504.4L294.3 505.0L294.4 505.6L294.4 505.5L294.4 510.3L294.5 511.7L294.5 512.1L294.6 511.9L294.6 513.2L294.7 514.8L294.7 514.6L294.7 518.4L294.8 520.0L294.8 519.4L294.9 519.7L294.9 521.0L294.9 525.4L295.0 525.7L295.0 528.4L295.0 528.0L295.1 530.5L295.1 532.5L295.1 532.3L295.1 532.1L295.2 534.3L295.2 536.9L295.2 537.4L295.2 538.9L295.2 541.1L295.2 539.5L295.2 540.5L295.2 543.1L295.1 545.9L295.1 547.2L295.0 548.6L294.9 550.2L294.8 551.7L294.7 551.3L294.6 551.4L294.5 553.7L294.5 553.5L294.5 556.9L294.5 558.4L294.5 558.8L294.6 560.4L294.7 562.4L294.8 563.9L294.9 563.6L295.0 564.7L295.1 566.6L295.2 567.6L295.3 569.1L295.4 569.7L295.6 570.7L295.7 572.5L295.8 576.0L296.0 574.2L296.1 576.5L296.3 578.5L296.4 578.7L296.6 583.0L296.7 584.1L296.8 584.7L297.0 583.9L297.1 587.7L297.3 588.4L297.4 590.0L297.6 589.0L297.7 591.1L297.8 592.5L298.0 594.2L298.1 594.6L298.2 598.0L298.3 596.8L298.5 597.9L298.5 599.6L298.6 603.6L298.6 603.8L298.6 604.4L298.6 604.7L298.6 608.1L298.7 609.6L298.8 610.3L299.0 612.5L299.3 613.9L299.6 611.8L299.8 614.0L300.1 614.5L300.5 616.3L300.8 618.3L301.2 619.4L301.6 620.7L302.1 623.6L302.7 624.4L303.3 624.2L304.2 624.0L305.2 625.2L306.4 625.0L307.7 628.0L309.0 628.8L310.3 627.0L311.6 625.3L312.9 628.2L314.1 626.8L315.4 625.5L316.7 626.1L317.9 623.8L319.1 626.5L320.4 625.5L321.6 623.1L322.8 621.5L323.9 624.5L325.1 623.9L326.2 622.2L327.2 619.8L328.2 618.9L329.1 620.1L329.8 617.7L330.5 614.8L331.0 614.0L331.4 614.7L331.8 614.3L332.0 610.1L332.3 611.7L332.4 607.8L332.6 609.1L332.7 607.7L332.9 605.2L333.0 602.6L333.2 604.0L333.3 602.4L333.5 601.1L333.7 599.0L333.8 598.0L334.0 596.1L334.1 595.3L334.2 593.8L334.3 593.2L334.4 590.1L334.5 591.4L334.6 587.9L334.7 585.5L334.8 584.5L334.9 586.1L334.9 584.2L335.0 581.5L335.1 580.5L335.2 580.6L335.2 576.9L335.3 575.6L335.3 573.8L335.4 575.0L335.4 571.7L335.5 571.4L335.6 569.5L335.6 570.0L335.7 566.1L335.7 566.7L335.7 566.9L335.8 563.8L335.8 563.9L335.9 560.9L335.9 560.6L336.0 559.2L336.0 555.5L336.0 557.2L336.1 554.3L336.1 554.4L336.2 554.0L336.2 549.3L336.3 548.7L336.3 548.0L336.3 547.8L336.4 547.3L336.4 543.1L336.5 542.8L336.5 540.9L336.6 540.1L336.6 538.5L336.7 536.2L336.7 534.8L336.8 533.6L336.8 534.2L336.9 533.1L336.9 530.5L337.0 528.5L337.1 528.3L337.1 527.0L337.2 527.9L337.3 523.5L337.3 521.9L337.4 523.7L337.5 522.8L337.5 519.3L337.6 517.7L337.6 517.0L337.7 516.0L337.8 514.0L337.8 514.0L337.9 513.2L338.0 510.9L338.0 510.5L338.1 509.0L338.2 506.1L338.2 506.5L338.3 502.7L338.4 502.0L338.4 503.1L338.5 498.6L338.6 499.0L338.6 498.0L338.7 497.5L338.8 496.0L338.8 492.0L338.9 493.5L338.9 489.9L339.0 489.7L339.1 490.3L339.1 488.4L339.2 484.0L339.3 482.8L339.3 484.8L339.4 482.2L339.5 480.5L339.5 480.0" fill="none" stroke="#2828e8" stroke-width="1.5" stroke-linejoin="round" stroke-linecap="round" clip-path="url(#clipD)"/>
<path d="M348.0 480.0L348.1 481.3L348.2 482.8L348.2 485.0L348.3 485.4L348.4 487.3L348.5 488.7L348.5 489.6L348.6 491.2L348.7 491.0L348.7 493.5L348.8 495.1L348.9 496.2L349.0 496.0L349.1 498.0L349.2 498.7L349.3 499.7L349.4 501.5L349.5 503.0L349.7 505.0L349.8 506.9L350.0 506.9L350.2 509.1L350.4 510.3L350.6 511.4L350.9 512.7L351.1 513.4L351.3 514.5L351.5 515.7L351.8 518.3L351.9 517.8L352.1 519.0L352.3 521.3L352.4 523.7L352.5 524.5L352.6 525.9L352.7 526.8L352.8 527.1L352.8 530.3L352.9 530.1L353.0 532.7L353.0 534.2L353.1 533.9L353.1 535.3L353.2 537.6L353.2 538.7L353.3 540.3L353.3 539.7L353.4 541.7L353.5 544.1L353.5 545.5L353.6 546.6L353.7 546.9L353.8 549.4L354.0 549.1L354.1 551.5L354.4 552.7L354.7 552.5L355.1 556.0L355.6 555.4L356.1 558.3L356.4 558.0" fill="none" stroke="#2828e8" stroke-width="1.5" stroke-linejoin="round" stroke-linecap="round" clip-path="url(#clipD)"/>
<path d="M84.0 544.5L84.1 543.3L84.2 540.9L84.4 540.9L84.5 538.7L84.6 538.4L84.8 535.2L84.9 533.7L85.0 533.5L85.1 532.4L85.3 531.2L85.4 529.6L85.5 527.1L85.6 526.9L85.7 524.4L85.9 524.1L86.0 523.1L86.1 520.5L86.2 518.8L86.3 517.8L86.3 516.6L86.4 515.9L86.5 513.0L86.6 513.1L86.7 511.1L86.8 510.2L86.9 507.7L87.0 506.5L87.0 506.1L87.1 503.4L87.2 502.2L87.3 500.6L87.4 500.6L87.4 498.0L87.5 497.3L87.6 494.8L87.7 494.2L87.8 492.3L87.8 491.7L87.9 489.6L88.0 489.3L88.1 486.9L88.2 484.9L88.2 484.1L88.3 482.3L88.4 481.7L88.5 479.6L88.5 480.0" fill="none" stroke="#111" stroke-width="1.5" stroke-linejoin="round" stroke-linecap="round" clip-path="url(#clipD)"/>
<path d="M100.5 480.0L100.5 482.7L100.6 481.7L100.6 485.1L100.6 485.3L100.7 486.1L100.7 488.2L100.7 490.5L100.7 492.2L100.8 491.9L100.8 493.8L100.8 495.7L100.9 498.0L100.9 499.5L100.9 498.6L100.9 500.5L101.0 501.7L101.0 503.5L101.0 504.4L101.0 506.6L101.1 509.1L101.1 509.9L101.1 509.8L101.1 512.7L101.1 514.3L101.2 514.4L101.2 517.3L101.2 519.0L101.2 518.3L101.3 520.4L101.3 522.8L101.3 523.9L101.3 526.1L101.3 526.5L101.4 528.2L101.4 528.6L101.4 531.0L101.4 530.8L101.4 532.2L101.5 535.8L101.5 535.8L101.5 536.4L101.5 538.9L101.6 540.7L101.6 542.0L101.6 543.4L101.6 544.6L101.7 546.5L101.7 548.4L101.7 548.0L101.7 549.1L101.8 550.5L101.8 552.7L101.8 554.9L101.8 556.7L101.9 557.9L101.9 558.7L101.9 559.1L102.0 560.2L102.0 561.7L102.0 564.0L102.0 564.5L102.1 568.1L102.1 568.5L102.1 569.0L102.2 572.1L102.2 573.3L102.3 572.8L102.3 574.8L102.3 577.8L102.4 577.9L102.4 579.9L102.5 581.1L102.5 583.2L102.6 583.3L102.6 583.7L102.7 586.1L102.8 587.8L102.8 588.6L102.9 589.8L103.0 591.6L103.0 593.1L103.1 595.7L103.2 595.3L103.3 597.7L103.4 599.5L103.5 599.6L103.6 601.8L103.7 602.3L103.8 605.2L103.9 606.5L104.0 606.9L104.1 607.6L104.2 610.3L104.4 611.7L104.6 613.7L105.0 614.7L105.6 616.4L106.6 616.5L107.9 616.8L109.2 616.6L110.6 618.4L112.0 618.3L113.4 618.1L114.8 617.5L116.2 617.5L117.5 617.6L118.8 618.0L120.1 618.9L121.5 619.3L122.8 619.8L124.2 620.6L125.6 619.1L127.0 620.3L128.4 619.3L129.7 619.1L130.9 617.6L131.9 618.8L132.8 616.4L133.6 615.4L134.2 614.8L134.8 612.6L135.2 612.3L135.6 610.9L135.8 609.4L136.0 606.2L136.1 604.8L136.2 604.5L136.3 603.6L136.4 602.1L136.5 600.1L136.6 599.5L136.7 596.3L136.7 596.0L136.8 594.2L136.9 592.8L136.9 591.7L137.0 591.4L137.0 588.5L137.1 587.3L137.1 587.2L137.1 584.6L137.2 582.5L137.2 583.2L137.2 581.0L137.3 580.3L137.3 579.2L137.3 577.8L137.3 576.2L137.4 572.6L137.4 573.5L137.4 569.7L137.5 570.6L137.5 569.1L137.5 565.9L137.5 565.2L137.5 564.0L137.6 562.8L137.6 561.4L137.6 560.0L137.6 559.1L137.6 556.6L137.7 555.3L137.7 554.0L137.7 552.2L137.7 551.2L137.7 548.8L137.7 548.2L137.8 546.0L137.8 546.2L137.8 545.4L137.8 542.9L137.8 541.4L137.8 539.5L137.9 539.7L137.9 537.7L137.9 535.4L137.9 535.0L137.9 532.2L137.9 532.8L137.9 531.0L138.0 529.8L138.0 528.2L138.0 525.5L138.0 524.2L138.0 523.7L138.0 522.4L138.1 520.6L138.1 519.2L138.1 517.4L138.1 516.2L138.1 514.1L138.1 512.5L138.2 512.3L138.2 511.6L138.2 508.1L138.3 508.8L138.3 506.8L138.3 504.5L138.4 503.0L138.6 503.5L138.6 505.0L138.7 506.0L138.7 507.0L138.8 509.2L138.8 509.8L138.8 511.6L138.9 513.5L138.9 513.8L138.9 514.9L138.9 517.4L138.9 518.3L139.0 519.1L139.0 520.8L139.0 523.4L139.0 523.2L139.0 526.1L139.1 528.0L139.1 527.8L139.1 529.9L139.1 531.3L139.1 533.1L139.2 533.1L139.2 535.2L139.2 536.2L139.2 537.8L139.2 539.6L139.3 541.5L139.3 541.9L139.3 543.2L139.3 545.8L139.3 545.4L139.4 549.2L139.4 548.3L139.4 550.7L139.4 552.0L139.5 554.4L139.5 556.1L139.5 557.4L139.6 558.8L139.6 559.7L139.6 560.2L139.7 562.5L139.8 564.6L139.9 563.4L140.1 563.8L140.2 562.8L140.3 559.6L140.3 558.6L140.4 558.6L140.5 556.2L140.5 554.5L140.6 553.4L140.6 552.6L140.7 550.2L140.7 548.4L140.8 547.4L140.8 545.7L140.8 544.0L140.9 544.5L140.9 541.8L141.0 541.2L141.0 539.6L141.0 538.9L141.1 535.9L141.1 534.7L141.2 534.0L141.2 532.2L141.2 530.5L141.3 530.5L141.3 527.4L141.3 527.2L141.4 526.0L141.4 524.5L141.4 522.9L141.5 521.5L141.5 520.1L141.6 518.0L141.6 517.8L141.6 515.0L141.7 514.8L141.7 513.6L141.7 511.2L141.8 508.9L141.8 509.1L141.8 506.3L141.9 506.7L141.9 504.5L142.0 502.9L142.0 501.3L142.0 501.1L142.1 499.1L142.1 497.2L142.1 495.4L142.2 493.3L142.2 492.4L142.3 492.4L142.3 490.9L142.3 490.1L142.4 488.9L142.4 485.3L142.5 484.0L142.5 484.5L142.5 483.3L142.6 480.9L142.6 480.0" fill="none" stroke="#111" stroke-width="1.5" stroke-linejoin="round" stroke-linecap="round" clip-path="url(#clipD)"/>
<path d="M150.0 480.0L150.0 481.4L150.0 483.4L150.0 485.0L150.0 485.4L150.1 487.3L150.1 488.7L150.1 488.7L150.1 490.8L150.1 492.5L150.1 493.9L150.1 494.4L150.1 497.8L150.1 497.0L150.1 500.5L150.1 501.7L150.2 502.8L150.2 502.7L150.2 505.6L150.2 506.7L150.2 507.0L150.2 508.2L150.2 509.9L150.2 512.7L150.2 514.0L150.2 515.9L150.2 515.9L150.3 516.9L150.3 519.6L150.3 520.1L150.3 522.6L150.3 524.2L150.3 524.6L150.3 525.9L150.4 527.4L150.4 529.9L150.4 529.4L150.4 532.0L150.4 533.4L150.5 535.0L150.5 535.2L150.5 537.3L150.5 538.4L150.6 541.0L150.6 542.2L150.6 543.2L150.7 545.4L150.7 546.7L150.7 547.5L150.8 547.4L150.8 550.9L150.9 551.1L150.9 551.7L151.0 553.3L151.0 554.4L151.1 556.3L151.1 558.9L151.2 558.6L151.2 562.0L151.3 562.1L151.3 564.5L151.4 565.6L151.4 567.4L151.5 568.7L151.6 570.3L151.6 571.3L151.7 573.5L151.7 572.6L151.8 576.4L151.8 577.7L151.9 578.4L152.0 578.8L152.0 579.7L152.1 581.0L152.1 584.6L152.2 585.0L152.2 586.6L152.3 588.2L152.3 588.9L152.4 590.9L152.4 592.9L152.5 594.5L152.5 595.9L152.6 596.3L152.6 597.6L152.7 598.7L152.7 601.1L152.7 602.8L152.7 603.0L152.7 605.8L152.7 605.1L152.7 606.2L152.7 608.1L152.6 610.7L152.6 610.5L152.5 613.8L152.5 613.5L152.4 614.7L152.4 616.7L152.3 619.6L152.3 618.9L152.2 621.5L152.2 622.8L152.1 623.7L152.1 626.1L152.1 627.8L152.1 629.0L152.1 630.5L152.2 630.5L152.2 632.5L152.3 633.5L152.5 635.1L152.7 636.4L153.1 639.2L153.6 638.8L154.3 639.4L155.3 640.3L156.5 642.9L157.6 644.3L158.7 642.9L159.8 645.2L161.0 645.2L162.1 647.3L163.3 647.0L164.5 647.2L165.7 647.7L167.0 650.3L168.2 650.3L169.6 650.4L170.9 649.6L172.2 652.3L173.6 650.5L174.9 651.5L176.2 653.4L177.4 654.0L178.6 655.1L179.8 654.6L180.8 656.6L181.8 655.9L182.7 658.2L183.5 658.5L184.2 660.0L184.7 661.2L185.0 663.3L185.3 664.3L185.6 665.9L185.8 667.8L186.1 668.9L186.4 669.0L186.5 670.0" fill="none" stroke="#111" stroke-width="1.5" stroke-linejoin="round" stroke-linecap="round" clip-path="url(#clipD)"/>
<path d="M186.5 670.0L186.7 671.2L187.0 672.8L187.2 674.3L187.5 675.3L187.8 677.0L188.1 678.2L188.5 679.8L188.8 681.1L189.2 682.2L189.6 683.7L189.9 685.1L190.3 686.4L190.7 687.8L191.2 689.1L191.6 690.2L192.1 691.6L192.5 693.0L193.0 694.2L193.6 695.7L194.2 696.7L194.8 697.9L195.5 699.3L196.3 700.2L197.1 701.8L197.9 702.6L198.8 703.5L199.8 704.9L200.8 705.7L201.8 706.7L202.9 707.4L204.1 708.5L205.3 709.2L206.5 709.5L207.8 710.5L209.1 710.5L210.5 711.1L211.9 711.2L213.3 711.2L214.7 711.0L216.1 711.4L217.5 711.4L218.9 711.2L220.3 711.2L221.7 710.9L223.1 711.3L224.5 711.0L225.9 711.1L227.3 711.0L228.7 711.2L230.1 711.0L231.5 711.4L232.9 711.3L234.3 710.6L235.6 710.4L237.0 710.3L238.3 709.7L239.6 709.2L240.8 708.6L242.0 707.7L243.2 706.7L244.3 705.9L245.4 705.1L246.5 704.3L247.5 703.3L248.4 702.3L249.2 700.9L250.0 700.0L250.7 698.6L251.3 697.3L251.9 696.2L252.4 694.9L252.9 693.8L253.4 692.4L253.9 691.3L254.3 689.7L254.9 688.2L255.4 687.2L255.9 685.6L256.4 684.3L256.9 683.1L257.5 681.9L258.0 680.8L258.4 679.5" fill="none" stroke="#111" stroke-width="1.5" stroke-linejoin="round" stroke-linecap="round" clip-path="url(#clipD)"/>
<path d="M258.4 679.5L258.7 679.0L259.0 675.6L259.3 674.5L259.5 673.7L259.8 672.0L260.0 672.1L260.2 670.5L260.5 669.5L260.7 667.2L261.0 667.0L261.2 664.0L261.5 663.4L261.9 662.0L262.3 660.8L262.8 658.0L263.3 658.1L264.1 655.8L265.1 654.6L266.4 655.2L267.8 653.8L269.1 654.2L270.5 653.7L271.9 652.8L273.2 652.6L274.4 653.5L275.7 652.8L277.0 650.7L278.1 652.0L279.3 649.9L280.3 650.2L281.2 648.5L282.0 645.8L282.9 647.0L283.8 645.1L284.7 643.7L285.7 642.3L286.9 641.7L288.2 642.0L289.3 643.0L290.3 643.0L291.2 645.4L292.3 646.3L293.5 645.2L294.2 645.1L294.5 642.8L294.7 642.4L294.9 640.5L295.0 638.1L295.1 637.1L295.2 637.2L295.2 634.2L295.3 634.1L295.3 631.0L295.3 630.9L295.4 630.0L295.4 626.9L295.4 626.1L295.4 623.9L295.5 624.4L295.5 621.1L295.5 621.5L295.6 618.4L295.7 617.7L295.8 616.8L295.9 615.0L296.1 614.3L296.3 611.6L296.6 611.2L296.9 609.4L297.2 607.2L297.6 606.6L297.9 604.4L298.2 604.3L298.4 601.6L298.6 601.1L298.8 599.1L298.9 598.5L299.0 598.1L299.1 595.8L299.2 595.2L299.3 592.9L299.3 592.6L299.4 590.8L299.4 589.3L299.5 587.5L299.5 585.9L299.5 583.5L299.6 582.2L299.6 582.0L299.6 580.8L299.6 578.4L299.6 578.8L299.6 576.3L299.6 573.8L299.6 573.7L299.6 572.4L299.6 571.3L299.6 570.0L299.6 567.9L299.6 565.8L299.6 564.1L299.6 563.0L299.6 561.1L299.6 562.1L299.6 560.5L299.6 558.5L299.6 556.0L299.6 555.3L299.6 552.8L299.5 553.1L299.5 550.4L299.5 550.5L299.5 549.2L299.5 547.8L299.5 546.8L299.5 542.9L299.5 543.3L299.5 541.5L299.5 540.6L299.5 537.5L299.5 538.0L299.5 534.5L299.5 533.6L299.5 532.4L299.5 530.9L299.5 529.8L299.5 528.9L299.5 528.2L299.5 525.0L299.5 523.3L299.6 522.1L299.6 521.8L299.6 519.8L299.6 518.0L299.6 517.5L299.6 515.9L299.6 513.8L299.6 513.7L299.7 512.2L299.7 510.2L299.7 509.9L299.7 507.1L299.7 506.5L299.7 503.7L299.7 503.6L299.7 502.6L299.7 500.4L299.8 499.1L299.8 497.2L299.8 496.7L299.8 496.1L299.8 494.7L299.8 493.6L299.8 492.1L299.8 489.7L299.8 487.5L299.8 485.9L299.9 485.3L299.9 484.9L299.9 482.3L299.9 480.6L299.9 480.0" fill="none" stroke="#111" stroke-width="1.5" stroke-linejoin="round" stroke-linecap="round" clip-path="url(#clipD)"/>
<path d="M309.3 480.0L309.3 481.4L309.3 483.4L309.3 483.3L309.4 485.7L309.4 488.2L309.4 489.0L309.4 489.9L309.4 491.7L309.4 492.8L309.4 493.2L309.4 494.9L309.4 496.5L309.4 497.2L309.5 499.8L309.5 500.9L309.5 501.6L309.5 503.5L309.5 505.9L309.5 505.9L309.5 508.3L309.5 509.2L309.5 511.7L309.5 512.0L309.5 512.3L309.5 515.0L309.5 516.8L309.5 517.4L309.5 518.1L309.5 521.2L309.5 522.1L309.6 522.3L309.6 523.6L309.6 525.8L309.6 528.5L309.6 528.2L309.6 529.4L309.6 532.9L309.6 532.6L309.6 533.6L309.6 536.0L309.6 537.3L309.6 539.7L309.6 539.1L309.6 541.4L309.6 543.4L309.6 543.9L309.6 546.6L309.7 547.4L309.7 548.9L309.7 549.7L309.7 551.8L309.7 554.1L309.7 555.4L309.7 555.6L309.7 558.3L309.7 559.1L309.7 560.4L309.7 561.9L309.8 563.5L309.8 564.2L309.8 565.0L309.8 567.5L309.8 567.5L309.8 570.5L309.8 572.2L309.9 573.1L309.9 574.4L309.9 574.8L309.9 576.1L309.9 579.1L310.0 579.8L310.0 579.7L310.0 581.5L310.1 584.8L310.1 585.2L310.1 587.0L310.1 588.4L310.2 590.1L310.2 591.5L310.3 592.6L310.3 592.7L310.4 593.9L310.4 595.9L310.5 598.9L310.6 599.2L310.6 600.9L310.7 601.9L310.7 603.8L310.8 605.2L310.8 606.6L310.9 608.4L310.9 607.6L311.0 611.3L311.1 611.0L311.2 613.3L311.4 613.5L311.6 616.8L312.0 616.0L312.6 617.6L313.3 620.6L314.3 620.6L315.5 621.4L316.8 622.5L318.2 621.2L319.5 623.2L320.9 622.8L322.3 622.0L323.7 623.4L325.1 623.0L326.5 623.2L327.9 623.1L329.2 622.7L330.5 624.3L331.8 623.9L333.2 625.5L334.6 625.4L335.9 624.8L336.9 623.8L337.7 623.6L338.4 620.2L338.9 620.2L339.4 617.9L339.9 618.8L340.3 615.0L340.7 615.7L341.0 613.8L341.3 610.9L341.6 609.9L341.7 609.7L341.8 608.5L341.9 606.6L341.9 606.1L342.0 604.4L342.1 603.1L342.1 600.3L342.2 599.5L342.3 598.3L342.4 596.5L342.5 595.1L342.6 593.0L342.6 591.8L342.7 592.3L342.8 589.4L342.9 587.6L342.9 586.2L343.0 584.6L343.1 583.1L343.1 581.7L343.2 580.8L343.2 580.5L343.3 577.7L343.4 578.3L343.4 575.7L343.5 574.0L343.5 571.8L343.6 572.6L343.7 570.5L343.7 567.8L343.8 568.3L343.8 565.7L343.9 565.2L343.9 564.5L344.0 562.9L344.0 560.4L344.1 559.1L344.1 558.3L344.2 555.6L344.2 555.5L344.3 552.5L344.4 551.8L344.4 550.2L344.5 548.4L344.5 547.1L344.6 545.3L344.6 544.5L344.7 543.7L344.7 542.2L344.8 540.0L344.8 539.4L344.9 536.8L344.9 536.6L345.0 536.5L345.0 533.7L345.1 531.8L345.1 531.5L345.2 529.2L345.2 527.2L345.3 526.5L345.3 524.3L345.4 522.8L345.4 522.4L345.5 521.5L345.5 519.8L345.6 519.6L345.6 517.8L345.7 516.4L345.7 514.8L345.8 512.5L345.8 512.7L345.9 509.8L345.9 508.6L346.0 506.5L346.0 506.0L346.1 505.2L346.1 502.1L346.2 500.7L346.2 499.3L346.3 500.0L346.3 497.4L346.4 495.0L346.4 493.4L346.5 493.9L346.5 490.8L346.6 489.5L346.6 489.9L346.7 486.4L346.8 487.3L346.8 486.0L346.9 483.4L346.9 480.8L347.0 480.2L347.0 480.0" fill="none" stroke="#111" stroke-width="1.5" stroke-linejoin="round" stroke-linecap="round" clip-path="url(#clipD)"/>
<line x1="264.5" y1="706" x2="232.9" y2="596.2" stroke="#111" stroke-width="2" stroke-dasharray="5.8 7.4"/>
<path d="M229.0 582.7L235.6 593.8L229.3 595.6Z" fill="#111"/>
<rect x="495.13" y="493.23" width="271.62" height="271.80999999999995" fill="none" stroke="#111" stroke-width="1.6"/>
<line x1="495.13" y1="765.04" x2="495.13" y2="758.04" stroke="#000" stroke-width="1.6"/>
<line x1="529.08" y1="765.04" x2="529.08" y2="761.54" stroke="#000" stroke-width="1.6"/>
<line x1="563.03" y1="765.04" x2="563.03" y2="758.04" stroke="#000" stroke-width="1.6"/>
<line x1="596.99" y1="765.04" x2="596.99" y2="761.54" stroke="#000" stroke-width="1.6"/>
<line x1="630.94" y1="765.04" x2="630.94" y2="758.04" stroke="#000" stroke-width="1.6"/>
<line x1="664.89" y1="765.04" x2="664.89" y2="761.54" stroke="#000" stroke-width="1.6"/>
<line x1="698.85" y1="765.04" x2="698.85" y2="758.04" stroke="#000" stroke-width="1.6"/>
<line x1="732.80" y1="765.04" x2="732.80" y2="761.54" stroke="#000" stroke-width="1.6"/>
<line x1="766.75" y1="765.04" x2="766.75" y2="758.04" stroke="#000" stroke-width="1.6"/>
<line x1="495.13" y1="765.04" x2="502.13" y2="765.04" stroke="#000" stroke-width="1.6"/>
<line x1="495.13" y1="719.74" x2="498.63" y2="719.74" stroke="#000" stroke-width="1.6"/>
<line x1="495.13" y1="674.44" x2="502.13" y2="674.44" stroke="#000" stroke-width="1.6"/>
<line x1="495.13" y1="629.14" x2="498.63" y2="629.14" stroke="#000" stroke-width="1.6"/>
<line x1="495.13" y1="583.84" x2="502.13" y2="583.84" stroke="#000" stroke-width="1.6"/>
<line x1="495.13" y1="538.54" x2="498.63" y2="538.54" stroke="#000" stroke-width="1.6"/>
<line x1="495.13" y1="493.24" x2="502.13" y2="493.24" stroke="#000" stroke-width="1.6"/>
<text x="486.30" y="772.84" font-size="23.5" text-anchor="end" textLength="33.81" lengthAdjust="spacingAndGlyphs">0.0</text>
<text x="486.30" y="682.24" font-size="23.5" text-anchor="end" textLength="33.81" lengthAdjust="spacingAndGlyphs">0.5</text>
<text x="486.30" y="591.64" font-size="23.5" text-anchor="end" textLength="33.81" lengthAdjust="spacingAndGlyphs">1.0</text>
<text x="486.30" y="501.04" font-size="23.5" text-anchor="end" textLength="33.81" lengthAdjust="spacingAndGlyphs">1.5</text>
<text x="495.63" y="793.20" font-size="23.5" text-anchor="middle" textLength="27.73" lengthAdjust="spacingAndGlyphs">−4</text>
<text x="563.53" y="793.20" font-size="23.5" text-anchor="middle" textLength="27.73" lengthAdjust="spacingAndGlyphs">−2</text>
<text x="631.44" y="793.20" font-size="23.5" text-anchor="middle" textLength="13.53" lengthAdjust="spacingAndGlyphs">0</text>
<text x="699.35" y="793.20" font-size="23.5" text-anchor="middle" textLength="13.53" lengthAdjust="spacingAndGlyphs">2</text>
<text x="767.25" y="793.20" font-size="23.5" text-anchor="middle" textLength="13.53" lengthAdjust="spacingAndGlyphs">4</text>
<text x="631.20" y="827.50" font-size="23" text-anchor="middle" textLength="74.77" lengthAdjust="spacingAndGlyphs"><tspan font-style="italic">V</tspan><tspan> (mV)</tspan></text>
<text x="429.00" y="623.50" font-size="23" text-anchor="middle" textLength="115.77" lengthAdjust="spacing" transform="rotate(-90 429.00 623.50)"><tspan>(d</tspan><tspan font-style="italic">V</tspan><tspan>/d</tspan><tspan font-style="italic">I</tspan><tspan>)/</tspan><tspan font-style="italic">R</tspan><tspan font-size="17" dy="5">N</tspan></text>
<text x="416.00" y="457.50" font-size="29" font-weight="bold">c</text>
<text x="522.00" y="521.80" font-size="21.5"><tspan font-style="italic">Z</tspan>=0.2</text>
<text x="618.00" y="555.00" font-size="22">11 K</text>
<text x="676.50" y="736.20" font-size="22">4 K</text>
<path d="M495.1 592.9L497.3 593.5L499.5 594.0L501.6 594.6L503.8 595.1L506.0 595.7L508.1 596.3L510.3 596.9L512.4 597.5L514.6 598.2L516.9 598.9L519.1 599.7L521.3 600.4L523.5 601.2L525.7 602.0L527.7 602.8L529.8 603.6L531.4 604.3L533.0 604.9L534.6 605.6L536.1 606.2L537.7 606.9L539.2 607.6L540.7 608.3L542.2 609.0L543.7 609.8L545.2 610.5L546.7 611.3L548.2 612.2L549.7 613.0L551.2 613.8L552.7 614.7L554.2 615.5L555.7 616.4L557.2 617.2L558.7 618.1L560.2 619.0L561.7 619.9L563.2 620.7L564.7 621.6L566.2 622.5L567.7 623.4L569.2 624.3L570.7 625.1L572.2 626.0L573.7 626.9L575.2 627.8L576.7 628.6L578.2 629.5L579.7 630.3L581.1 631.2L582.5 632.0L584.0 632.8L585.4 633.6L587.0 634.4L588.5 635.2L590.2 636.0L592.4 636.9L594.7 637.9L597.1 638.8L599.6 639.7L602.2 640.5L604.8 641.4L607.3 642.1L609.9 642.8L612.5 643.5L615.1 644.1L617.7 644.7L620.3 645.3L623.0 645.8L625.7 646.2L628.3 646.4L630.9 646.5L633.6 646.4L636.2 646.2L638.9 645.8L641.5 645.3L644.2 644.7L646.8 644.1L649.4 643.5L652.0 642.8L654.5 642.1L657.1 641.4L659.7 640.5L662.2 639.7L664.7 638.8L667.2 637.9L669.5 636.9L671.7 636.0L673.4 635.2L674.9 634.4L676.4 633.6L677.9 632.8L679.3 632.0L680.8 631.2L682.2 630.3L683.7 629.5L685.2 628.6L686.7 627.8L688.2 626.9L689.7 626.0L691.2 625.1L692.7 624.3L694.2 623.4L695.7 622.5L697.2 621.6L698.7 620.7L700.2 619.9L701.7 619.0L703.2 618.1L704.7 617.2L706.2 616.4L707.7 615.5L709.2 614.7L710.7 613.8L712.2 613.0L713.6 612.2L715.1 611.3L716.7 610.5L718.2 609.8L719.7 609.0L721.2 608.3L722.7 607.6L724.2 606.9L725.7 606.2L727.3 605.6L728.8 604.9L730.5 604.3L732.1 603.6L734.1 602.8L736.2 602.0L738.4 601.2L740.6 600.4L742.8 599.7L745.0 598.9L747.2 598.2L749.4 597.5L751.6 596.9L753.7 596.3L755.9 595.7L758.1 595.1L760.2 594.6L762.4 594.0L764.6 593.5L766.8 592.9" fill="none" stroke="#b8803c" stroke-width="1.4" stroke-linejoin="round" stroke-linecap="round" clip-path="url(#clipC)"/>
<path d="M495.1 597.0L497.3 597.7L499.5 598.3L501.6 599.0L503.8 599.6L506.0 600.3L508.1 601.0L510.3 601.7L512.4 602.5L514.7 603.3L516.9 604.2L519.1 605.1L521.4 606.1L523.6 607.1L525.7 608.1L527.8 609.1L529.8 610.2L531.5 611.2L533.1 612.3L534.6 613.4L536.2 614.5L537.7 615.7L539.1 616.8L540.7 617.9L542.2 619.0L543.7 620.0L545.2 621.0L546.7 622.0L548.2 622.9L549.7 623.9L551.2 624.8L552.7 625.7L554.2 626.6L555.7 627.5L557.2 628.3L558.7 629.1L560.2 630.0L561.7 630.8L563.2 631.6L564.7 632.4L566.2 633.2L567.7 634.0L569.2 634.9L570.7 635.7L572.2 636.5L573.7 637.3L575.2 638.2L576.7 639.0L578.2 639.8L579.7 640.6L581.1 641.4L582.6 642.2L584.0 643.0L585.5 643.7L587.0 644.5L588.5 645.3L590.2 646.1L592.4 647.1L594.7 648.2L597.1 649.3L599.6 650.4L602.2 651.4L604.7 652.4L607.3 653.3L609.9 654.0L612.5 654.6L615.1 655.1L617.7 655.5L620.3 655.8L623.0 656.1L625.6 656.3L628.3 656.4L630.9 656.4L633.6 656.4L636.2 656.3L638.9 656.1L641.6 655.8L644.2 655.5L646.8 655.1L649.4 654.6L652.0 654.0L654.6 653.3L657.1 652.4L659.7 651.4L662.2 650.4L664.7 649.3L667.2 648.2L669.5 647.1L671.7 646.1L673.3 645.3L674.9 644.5L676.4 643.7L677.9 643.0L679.3 642.2L680.8 641.4L682.2 640.6L683.7 639.8L685.2 639.0L686.7 638.2L688.2 637.3L689.7 636.5L691.2 635.7L692.7 634.9L694.2 634.0L695.7 633.2L697.2 632.4L698.7 631.6L700.2 630.8L701.7 630.0L703.2 629.1L704.7 628.3L706.2 627.5L707.7 626.6L709.2 625.7L710.7 624.8L712.2 623.9L713.7 622.9L715.2 622.0L716.7 621.0L718.2 620.0L719.7 619.0L721.2 617.9L722.7 616.8L724.2 615.7L725.7 614.5L727.2 613.4L728.8 612.3L730.4 611.2L732.1 610.2L734.1 609.1L736.2 608.1L738.3 607.1L740.5 606.1L742.8 605.1L745.0 604.2L747.2 603.3L749.4 602.5L751.6 601.7L753.7 601.0L755.9 600.3L758.1 599.6L760.2 599.0L762.4 598.3L764.6 597.7L766.8 597.0" fill="none" stroke="#4a80b4" stroke-width="1.4" stroke-linejoin="round" stroke-linecap="round" clip-path="url(#clipC)"/>
<path d="M495.1 598.3L497.3 599.1L499.5 599.8L501.7 600.5L503.8 601.2L506.0 601.9L508.2 602.7L510.3 603.6L512.4 604.5L514.7 605.6L516.9 606.8L519.1 608.0L521.3 609.3L523.5 610.7L525.7 612.0L527.7 613.3L529.8 614.5L531.4 615.5L533.0 616.5L534.6 617.4L536.2 618.4L537.7 619.3L539.2 620.3L540.7 621.3L542.2 622.4L543.7 623.6L545.2 624.9L546.7 626.2L548.2 627.5L549.7 628.8L551.2 630.1L552.7 631.4L554.2 632.6L555.7 633.7L557.2 634.7L558.7 635.7L560.1 636.7L561.7 637.6L563.2 638.6L564.7 639.5L566.2 640.4L567.7 641.3L569.2 642.1L570.7 643.0L572.2 643.8L573.7 644.6L575.2 645.4L576.7 646.2L578.2 647.0L579.7 647.8L581.1 648.5L582.5 649.2L584.0 650.0L585.5 650.7L587.0 651.4L588.5 652.1L590.2 652.8L592.4 653.7L594.7 654.6L597.1 655.6L599.6 656.5L602.2 657.4L604.8 658.2L607.3 658.9L609.9 659.5L612.5 660.0L615.1 660.4L617.7 660.7L620.3 660.9L623.0 661.0L625.6 661.1L628.3 661.2L630.9 661.2L633.6 661.2L636.2 661.1L638.9 661.0L641.5 660.9L644.2 660.7L646.8 660.4L649.4 660.0L652.0 659.5L654.5 658.9L657.1 658.2L659.7 657.4L662.2 656.5L664.7 655.6L667.2 654.6L669.5 653.7L671.7 652.8L673.3 652.1L674.9 651.4L676.4 650.7L677.9 650.0L679.3 649.2L680.8 648.5L682.2 647.8L683.7 647.0L685.2 646.2L686.7 645.4L688.2 644.6L689.7 643.8L691.2 643.0L692.7 642.1L694.2 641.3L695.7 640.4L697.2 639.5L698.7 638.6L700.2 637.6L701.7 636.7L703.2 635.7L704.7 634.7L706.2 633.7L707.7 632.6L709.2 631.4L710.7 630.1L712.2 628.8L713.7 627.5L715.1 626.2L716.6 624.9L718.2 623.6L719.7 622.4L721.2 621.3L722.7 620.3L724.2 619.3L725.7 618.4L727.3 617.4L728.8 616.5L730.5 615.5L732.1 614.5L734.1 613.3L736.2 612.0L738.4 610.7L740.5 609.3L742.8 608.0L745.0 606.8L747.2 605.6L749.4 604.5L751.6 603.6L753.7 602.7L755.9 601.9L758.0 601.2L760.2 600.5L762.4 599.8L764.6 599.1L766.8 598.3" fill="none" stroke="#8e3030" stroke-width="1.4" stroke-linejoin="round" stroke-linecap="round" clip-path="url(#clipC)"/>
<path d="M495.1 599.0L497.3 599.7L499.5 600.4L501.7 601.1L503.8 601.7L506.0 602.4L508.2 603.2L510.3 604.0L512.4 605.0L514.7 606.1L516.9 607.4L519.2 608.8L521.4 610.2L523.6 611.7L525.7 613.2L527.8 614.6L529.8 616.0L531.4 617.2L533.1 618.3L534.6 619.5L536.2 620.7L537.7 621.8L539.2 623.0L540.7 624.2L542.2 625.4L543.7 626.6L545.2 627.9L546.7 629.2L548.2 630.5L549.7 631.8L551.2 633.1L552.7 634.4L554.2 635.6L555.7 636.8L557.2 637.9L558.7 639.1L560.2 640.2L561.7 641.4L563.2 642.5L564.7 643.5L566.2 644.6L567.7 645.6L569.2 646.6L570.7 647.6L572.1 648.6L573.7 649.5L575.2 650.4L576.7 651.3L578.2 652.1L579.7 652.8L581.1 653.5L582.5 654.2L584.0 654.8L585.4 655.5L587.0 656.0L588.5 656.6L590.2 657.2L592.4 657.9L594.7 658.6L597.2 659.3L599.7 660.0L602.2 660.7L604.8 661.2L607.3 661.7L609.9 662.1L612.5 662.4L615.1 662.6L617.7 662.7L620.4 662.7L623.0 662.7L625.7 662.7L628.3 662.6L630.9 662.6L633.6 662.6L636.2 662.7L638.9 662.7L641.5 662.7L644.2 662.7L646.8 662.6L649.4 662.4L652.0 662.1L654.5 661.7L657.1 661.2L659.7 660.7L662.2 660.0L664.7 659.3L667.2 658.6L669.5 657.9L671.7 657.2L673.3 656.6L674.9 656.0L676.4 655.5L677.9 654.8L679.4 654.2L680.8 653.5L682.2 652.8L683.7 652.1L685.2 651.3L686.7 650.4L688.2 649.5L689.7 648.6L691.2 647.6L692.7 646.6L694.2 645.6L695.7 644.6L697.2 643.5L698.7 642.5L700.2 641.4L701.7 640.2L703.2 639.1L704.7 637.9L706.2 636.8L707.7 635.6L709.2 634.4L710.7 633.1L712.2 631.8L713.7 630.5L715.2 629.2L716.7 627.9L718.2 626.6L719.7 625.4L721.2 624.2L722.7 623.0L724.2 621.8L725.7 620.7L727.3 619.5L728.8 618.3L730.4 617.2L732.1 616.0L734.1 614.6L736.2 613.2L738.3 611.7L740.5 610.2L742.7 608.8L745.0 607.4L747.2 606.1L749.4 605.0L751.6 604.0L753.7 603.2L755.9 602.4L758.0 601.7L760.2 601.1L762.4 600.4L764.6 599.7L766.8 599.0" fill="none" stroke="#8a3ad8" stroke-width="1.4" stroke-linejoin="round" stroke-linecap="round" clip-path="url(#clipC)"/>
<path d="M495.1 598.8L497.3 599.5L499.5 600.1L501.7 600.7L503.8 601.4L506.0 602.0L508.2 602.8L510.3 603.6L512.4 604.5L514.7 605.6L516.9 606.9L519.2 608.2L521.4 609.6L523.6 611.0L525.7 612.5L527.8 614.0L529.8 615.5L531.5 616.8L533.1 618.2L534.7 619.5L536.2 620.9L537.7 622.3L539.2 623.7L540.7 625.1L542.2 626.6L543.7 628.1L545.2 629.7L546.7 631.3L548.2 632.9L549.7 634.6L551.2 636.2L552.7 637.7L554.2 639.2L555.7 640.6L557.1 641.9L558.6 643.3L560.1 644.6L561.6 645.9L563.1 647.1L564.6 648.3L566.2 649.4L567.7 650.4L569.1 651.3L570.6 652.2L572.1 653.0L573.6 653.8L575.2 654.5L576.7 655.3L578.2 656.0L579.7 656.7L581.1 657.4L582.5 658.0L584.0 658.7L585.4 659.3L587.0 659.9L588.5 660.4L590.2 660.9L592.4 661.5L594.7 662.0L597.2 662.5L599.7 662.9L602.2 663.3L604.8 663.6L607.4 663.9L609.9 664.1L612.5 664.3L615.1 664.3L617.7 664.3L620.4 664.3L623.0 664.2L625.7 664.1L628.3 664.0L630.9 664.0L633.6 664.0L636.2 664.1L638.9 664.2L641.5 664.3L644.2 664.3L646.8 664.3L649.4 664.3L652.0 664.1L654.5 663.9L657.1 663.6L659.7 663.3L662.2 662.9L664.7 662.5L667.2 662.0L669.5 661.5L671.7 660.9L673.3 660.4L674.9 659.9L676.4 659.3L677.9 658.7L679.3 658.0L680.8 657.4L682.2 656.7L683.7 656.0L685.2 655.3L686.7 654.5L688.2 653.8L689.7 653.0L691.3 652.2L692.7 651.3L694.2 650.4L695.7 649.4L697.2 648.3L698.8 647.1L700.3 645.9L701.8 644.6L703.3 643.3L704.7 641.9L706.2 640.6L707.7 639.2L709.2 637.7L710.7 636.2L712.2 634.6L713.7 632.9L715.2 631.3L716.7 629.7L718.2 628.1L719.7 626.6L721.2 625.1L722.7 623.7L724.2 622.3L725.7 620.9L727.2 619.5L728.8 618.2L730.4 616.8L732.1 615.5L734.1 614.0L736.2 612.5L738.3 611.0L740.5 609.6L742.7 608.2L744.9 606.9L747.2 605.6L749.4 604.5L751.6 603.6L753.7 602.8L755.9 602.0L758.0 601.4L760.2 600.7L762.4 600.1L764.6 599.5L766.8 598.8" fill="none" stroke="#2a8a3a" stroke-width="1.4" stroke-linejoin="round" stroke-linecap="round" clip-path="url(#clipC)"/>
<path d="M495.1 598.5L497.3 599.2L499.5 599.9L501.7 600.6L503.8 601.2L506.0 601.9L508.2 602.7L510.3 603.5L512.4 604.5L514.7 605.6L516.9 606.9L519.2 608.2L521.4 609.6L523.6 611.0L525.7 612.5L527.8 614.0L529.8 615.5L531.5 616.9L533.1 618.4L534.7 619.9L536.2 621.4L537.7 623.0L539.2 624.6L540.7 626.2L542.2 627.8L543.7 629.5L545.2 631.3L546.7 633.2L548.2 635.0L549.7 636.9L551.2 638.7L552.7 640.5L554.2 642.2L555.7 643.8L557.1 645.3L558.6 646.8L560.1 648.3L561.6 649.8L563.1 651.1L564.6 652.4L566.2 653.6L567.6 654.6L569.1 655.4L570.6 656.2L572.1 656.9L573.6 657.6L575.2 658.3L576.7 658.9L578.2 659.6L579.7 660.3L581.1 660.9L582.5 661.6L584.0 662.2L585.4 662.8L586.9 663.3L588.5 663.8L590.2 664.2L592.4 664.6L594.7 664.8L597.2 665.0L599.7 665.0L602.2 665.1L604.8 665.1L607.4 665.1L609.9 665.1L612.5 665.1L615.1 665.1L617.7 665.1L620.4 665.0L623.0 665.0L625.7 664.9L628.3 664.9L630.9 664.9L633.6 664.9L636.2 664.9L638.9 665.0L641.5 665.0L644.1 665.1L646.8 665.1L649.4 665.1L652.0 665.1L654.5 665.1L657.1 665.1L659.7 665.1L662.2 665.0L664.7 665.0L667.2 664.8L669.5 664.6L671.7 664.2L673.3 663.8L674.9 663.3L676.4 662.8L677.9 662.2L679.3 661.6L680.8 660.9L682.2 660.3L683.7 659.6L685.2 658.9L686.7 658.3L688.2 657.6L689.8 656.9L691.3 656.2L692.8 655.4L694.2 654.6L695.7 653.6L697.3 652.4L698.8 651.1L700.3 649.8L701.8 648.3L703.3 646.8L704.8 645.3L706.2 643.8L707.7 642.2L709.2 640.5L710.7 638.7L712.2 636.9L713.7 635.0L715.2 633.2L716.6 631.3L718.2 629.5L719.7 627.8L721.2 626.2L722.7 624.6L724.1 623.0L725.6 621.4L727.2 619.9L728.8 618.4L730.4 616.9L732.1 615.5L734.1 614.0L736.1 612.5L738.3 611.0L740.5 609.6L742.7 608.2L744.9 606.9L747.2 605.6L749.4 604.5L751.6 603.5L753.7 602.7L755.9 601.9L758.0 601.2L760.2 600.6L762.4 599.9L764.6 599.2L766.8 598.5" fill="none" stroke="#2a2ae0" stroke-width="1.4" stroke-linejoin="round" stroke-linecap="round" clip-path="url(#clipC)"/>
<path d="M495.1 598.5L497.3 599.2L499.5 599.9L501.7 600.6L503.8 601.2L506.0 601.9L508.2 602.7L510.3 603.5L512.4 604.5L514.7 605.6L516.9 606.9L519.2 608.2L521.4 609.5L523.6 611.0L525.8 612.5L527.8 614.0L529.8 615.6L531.5 617.1L533.2 618.7L534.7 620.4L536.3 622.0L537.7 623.8L539.2 625.5L540.7 627.2L542.2 629.0L543.7 630.8L545.2 632.7L546.7 634.6L548.2 636.5L549.7 638.5L551.2 640.3L552.7 642.2L554.2 644.0L555.7 645.7L557.1 647.4L558.6 649.1L560.1 650.7L561.6 652.3L563.1 653.8L564.6 655.3L566.2 656.6L567.6 657.7L569.1 658.7L570.6 659.6L572.1 660.5L573.6 661.3L575.1 662.1L576.7 662.8L578.2 663.5L579.7 664.1L581.1 664.6L582.5 665.1L584.0 665.6L585.4 666.0L587.0 666.3L588.5 666.6L590.2 666.8L592.4 666.9L594.7 666.8L597.2 666.7L599.7 666.4L602.2 666.1L604.8 665.7L607.4 665.5L609.9 665.3L612.5 665.2L615.1 665.1L617.7 665.0L620.4 665.0L623.0 664.9L625.7 664.9L628.3 664.9L630.9 664.9L633.6 664.9L636.2 664.9L638.9 664.9L641.5 665.0L644.2 665.0L646.8 665.1L649.4 665.2L652.0 665.3L654.5 665.5L657.1 665.7L659.7 666.1L662.2 666.4L664.7 666.7L667.1 666.8L669.5 666.9L671.7 666.8L673.3 666.6L674.9 666.3L676.4 666.0L677.9 665.6L679.4 665.1L680.8 664.6L682.2 664.1L683.7 663.5L685.2 662.8L686.7 662.1L688.3 661.3L689.8 660.5L691.3 659.6L692.8 658.7L694.2 657.7L695.7 656.6L697.3 655.3L698.8 653.8L700.3 652.3L701.8 650.7L703.3 649.1L704.8 647.4L706.2 645.7L707.7 644.0L709.2 642.2L710.7 640.3L712.2 638.5L713.7 636.5L715.2 634.6L716.6 632.7L718.2 630.8L719.7 629.0L721.2 627.2L722.7 625.5L724.1 623.8L725.6 622.0L727.2 620.4L728.7 618.7L730.4 617.1L732.1 615.6L734.1 614.0L736.1 612.5L738.3 611.0L740.4 609.5L742.7 608.2L744.9 606.9L747.2 605.6L749.4 604.5L751.6 603.5L753.7 602.7L755.9 601.9L758.0 601.2L760.2 600.6L762.4 599.9L764.6 599.2L766.8 598.5" fill="none" stroke="#1a1a1a" stroke-width="1.4" stroke-linejoin="round" stroke-linecap="round" clip-path="url(#clipC)"/>
<line x1="495.13" y1="584.30" x2="766.75" y2="584.30" stroke="#b0509a" stroke-width="1.6"/>
<line x1="684.9" y1="702.2" x2="647.3" y2="573.9" stroke="#111" stroke-width="2" stroke-dasharray="5.8 7.4"/>
<path d="M643.4 560.5L650.1 571.6L643.7 573.4Z" fill="#111"/></svg>
</body></html>
